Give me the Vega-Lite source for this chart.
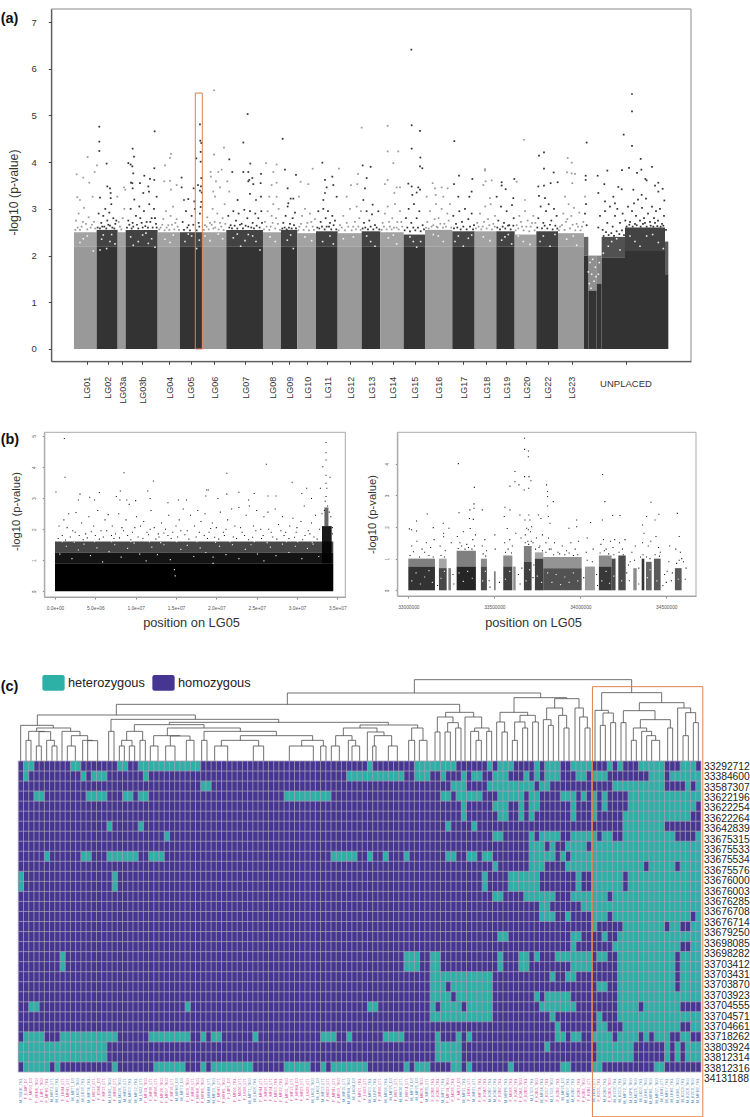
{"$schema":"https://vega.github.io/schema/vega-lite/v6.json","width":750,"height":1117,"autosize":"none","padding":0,"background":"white","config":{"font":"Liberation Sans","view":{"stroke":null},"axis":{"grid":false,"titleFontWeight":"normal","labelFlush":false,"labelOverlap":false}},
"datasets":{
"aSolid":[{"x":222,"x2":290,"y":0,"y2":2.2,"g":"g"},{"x":290,"x2":353,"y":0,"y2":2.2,"g":"d"},{"x":353,"x2":377,"y":0,"y2":2.2,"g":"g"},{"x":377,"x2":473,"y":0,"y2":2.2,"g":"d"},{"x":473,"x2":540,"y":0,"y2":2.2,"g":"g"},{"x":540,"x2":607,"y":0,"y2":2.2,"g":"d"},{"x":607,"x2":679,"y":0,"y2":2.2,"g":"g"},{"x":679,"x2":789,"y":0,"y2":2.2,"g":"d"},{"x":789,"x2":843,"y":0,"y2":2.2,"g":"g"},{"x":843,"x2":892,"y":0,"y2":2.2,"g":"d"},{"x":892,"x2":948,"y":0,"y2":2.2,"g":"g"},{"x":948,"x2":1013,"y":0,"y2":2.2,"g":"d"},{"x":1013,"x2":1085,"y":0,"y2":2.2,"g":"g"},{"x":1085,"x2":1141,"y":0,"y2":2.2,"g":"d"},{"x":1141,"x2":1211,"y":0,"y2":2.2,"g":"g"},{"x":1211,"x2":1275,"y":0,"y2":2.2,"g":"d"},{"x":1275,"x2":1357,"y":0,"y2":2.2,"g":"g"},{"x":1357,"x2":1424,"y":0,"y2":2.2,"g":"d"},{"x":1424,"x2":1489,"y":0,"y2":2.2,"g":"g"},{"x":1489,"x2":1544,"y":0,"y2":2.2,"g":"d"},{"x":1544,"x2":1609,"y":0,"y2":2.2,"g":"g"},{"x":1609,"x2":1674,"y":0,"y2":2.2,"g":"d"},{"x":1674,"x2":1752,"y":0,"y2":2.2,"g":"g"},{"x":1752,"x2":1765,"y":0,"y2":2.0,"g":"d"},{"x":1765,"x2":1790,"y":0,"y2":1.25,"g":"d"},{"x":1790,"x2":1805,"y":0,"y2":1.4,"g":"d"},{"x":1805,"x2":1875,"y":0,"y2":1.95,"g":"d"},{"x":1875,"x2":1995,"y":0,"y2":2.1,"g":"d"},{"x":1995,"x2":2005,"y":0,"y2":1.6,"g":"d"}],
"aBand":[{"x":222,"x2":290,"y":2.2,"y2":2.5,"g":"g","d":0.9},{"x":290,"x2":353,"y":2.2,"y2":2.55,"g":"d","d":0.92},{"x":353,"x2":377,"y":2.2,"y2":2.5,"g":"g","d":0.9},{"x":377,"x2":473,"y":2.2,"y2":2.55,"g":"d","d":0.92},{"x":473,"x2":540,"y":2.2,"y2":2.5,"g":"g","d":0.9},{"x":540,"x2":607,"y":2.2,"y2":2.5,"g":"d","d":0.9},{"x":607,"x2":679,"y":2.2,"y2":2.5,"g":"g","d":0.9},{"x":679,"x2":789,"y":2.2,"y2":2.55,"g":"d","d":0.92},{"x":789,"x2":843,"y":2.2,"y2":2.5,"g":"g","d":0.9},{"x":843,"x2":892,"y":2.2,"y2":2.55,"g":"d","d":0.92},{"x":892,"x2":948,"y":2.2,"y2":2.48,"g":"g","d":0.9},{"x":948,"x2":1013,"y":2.2,"y2":2.52,"g":"d","d":0.92},{"x":1013,"x2":1085,"y":2.2,"y2":2.48,"g":"g","d":0.9},{"x":1085,"x2":1141,"y":2.2,"y2":2.52,"g":"d","d":0.92},{"x":1141,"x2":1211,"y":2.2,"y2":2.5,"g":"g","d":0.9},{"x":1211,"x2":1275,"y":2.2,"y2":2.45,"g":"d","d":0.9},{"x":1275,"x2":1357,"y":2.2,"y2":2.55,"g":"g","d":0.95},{"x":1357,"x2":1424,"y":2.2,"y2":2.52,"g":"d","d":0.9},{"x":1424,"x2":1489,"y":2.2,"y2":2.52,"g":"g","d":0.9},{"x":1489,"x2":1544,"y":2.2,"y2":2.52,"g":"d","d":0.92},{"x":1544,"x2":1609,"y":2.2,"y2":2.45,"g":"g","d":0.9},{"x":1609,"x2":1674,"y":2.2,"y2":2.52,"g":"d","d":0.92},{"x":1674,"x2":1752,"y":2.2,"y2":2.48,"g":"g","d":0.9},{"x":1752,"x2":1765,"y":2.0,"y2":2.4,"g":"d","d":0.75},{"x":1765,"x2":1790,"y":1.25,"y2":2.0,"g":"d","d":0.55},{"x":1790,"x2":1805,"y":1.4,"y2":2.0,"g":"d","d":0.6},{"x":1805,"x2":1875,"y":1.95,"y2":2.4,"g":"d","d":0.85},{"x":1875,"x2":1995,"y":2.1,"y2":2.6,"g":"d","d":0.92},{"x":1995,"x2":2005,"y":1.6,"y2":2.3,"g":"d","d":0.8}],
"aWhite":[{"x":240,"y":2.28},{"x":262,"y":2.42},{"x":280,"y":2.1},{"x":305,"y":2.35},{"x":320,"y":2.15},{"x":335,"y":2.45},{"x":345,"y":2.25},{"x":392,"y":2.4},{"x":415,"y":2.3},{"x":438,"y":2.48},{"x":455,"y":2.36},{"x":465,"y":2.18},{"x":495,"y":2.35},{"x":520,"y":2.44},{"x":555,"y":2.3},{"x":575,"y":2.42},{"x":590,"y":2.15},{"x":630,"y":2.32},{"x":655,"y":2.46},{"x":700,"y":2.38},{"x":722,"y":2.2},{"x":745,"y":2.45},{"x":768,"y":2.3},{"x":780,"y":2.12},{"x":810,"y":2.4},{"x":862,"y":2.33},{"x":880,"y":2.15},{"x":915,"y":2.4},{"x":968,"y":2.3},{"x":990,"y":2.42},{"x":1030,"y":2.36},{"x":1100,"y":2.42},{"x":1125,"y":2.2},{"x":1165,"y":2.38},{"x":1190,"y":2.25},{"x":1230,"y":2.4},{"x":1250,"y":2.18},{"x":1262,"y":2.3},{"x":1300,"y":2.45},{"x":1330,"y":2.3},{"x":1375,"y":2.42},{"x":1390,"y":2.2},{"x":1405,"y":2.37},{"x":1450,"y":2.4},{"x":1505,"y":2.33},{"x":1525,"y":2.45},{"x":1570,"y":2.3},{"x":1590,"y":2.24},{"x":1630,"y":2.42},{"x":1650,"y":2.2},{"x":1700,"y":2.35},{"x":1730,"y":2.22},{"x":1825,"y":2.2},{"x":1835,"y":2.3},{"x":1860,"y":2.12},{"x":1905,"y":2.3},{"x":1940,"y":2.42},{"x":1975,"y":2.28},{"x":1775,"y":1.6},{"x":1782,"y":1.45},{"x":1770,"y":1.85},{"x":1786,"y":1.75},{"x":1795,"y":1.6},{"x":1810,"y":2.05},{"x":1798,"y":1.85},{"x":1768,"y":1.4},{"x":1778,"y":1.92},{"x":1773,"y":1.3},{"x":1788,"y":1.55},{"x":1765,"y":1.65},{"x":250,"y":2.36},{"x":300,"y":2.12},{"x":310,"y":2.44},{"x":330,"y":2.3},{"x":400,"y":2.22},{"x":428,"y":2.44},{"x":445,"y":2.26},{"x":510,"y":2.28},{"x":565,"y":2.46},{"x":598,"y":2.33},{"x":615,"y":2.42},{"x":668,"y":2.36},{"x":712,"y":2.46},{"x":735,"y":2.32},{"x":758,"y":2.42},{"x":826,"y":2.3},{"x":872,"y":2.44},{"x":935,"y":2.32},{"x":1000,"y":2.25},{"x":1060,"y":2.4},{"x":1112,"y":2.3},{"x":1180,"y":2.44},{"x":1240,"y":2.3},{"x":1315,"y":2.42},{"x":1365,"y":2.3},{"x":1415,"y":2.44},{"x":1470,"y":2.32},{"x":1515,"y":2.4},{"x":1535,"y":2.25},{"x":1555,"y":2.42},{"x":1620,"y":2.3},{"x":1665,"y":2.45},{"x":1720,"y":2.42},{"x":1850,"y":2.36},{"x":1890,"y":2.42},{"x":1920,"y":2.2},{"x":1958,"y":2.45},{"x":1990,"y":2.15}],
"aGrey":[{"x":230,"y":3.74},{"x":263,"y":4.11},{"x":250,"y":3.67},{"x":268,"y":3.56},{"x":284,"y":3.79},{"x":291,"y":3.93},{"x":232,"y":3.25},{"x":240,"y":3.19},{"x":278,"y":3.26},{"x":372,"y":3.46},{"x":376,"y":3.41},{"x":352,"y":3.26},{"x":495,"y":3.93},{"x":513,"y":4.18},{"x":510,"y":4.09},{"x":493,"y":3.59},{"x":510,"y":3.6},{"x":513,"y":3.41},{"x":530,"y":3.51},{"x":642,"y":5.54},{"x":642,"y":4.16},{"x":672,"y":4.31},{"x":632,"y":3.79},{"x":665,"y":3.84},{"x":655,"y":3.79},{"x":633,"y":3.69},{"x":648,"y":3.59},{"x":660,"y":3.46},{"x":682,"y":3.59},{"x":640,"y":3.37},{"x":645,"y":3.26},{"x":688,"y":3.37},{"x":798,"y":3.98},{"x":830,"y":3.95},{"x":820,"y":3.79},{"x":830,"y":3.56},{"x":815,"y":3.51},{"x":830,"y":3.26},{"x":808,"y":3.26},{"x":938,"y":3.86},{"x":902,"y":3.58},{"x":925,"y":3.53},{"x":897,"y":3.26},{"x":1017,"y":3.86},{"x":1074,"y":3.75},{"x":1053,"y":3.51},{"x":1072,"y":3.53},{"x":1085,"y":4.74},{"x":1040,"y":3.26},{"x":1163,"y":4.78},{"x":1163,"y":4.23},{"x":1195,"y":4.23},{"x":1180,"y":3.98},{"x":1163,"y":3.62},{"x":1155,"y":3.53},{"x":1190,"y":3.46},{"x":1200,"y":3.46},{"x":1183,"y":3.34},{"x":1572,"y":4.48},{"x":1703,"y":4.09},{"x":1715,"y":3.99},{"x":1701,"y":3.78},{"x":1715,"y":3.76},{"x":1725,"y":3.75},{"x":1717,"y":3.55},{"x":1455,"y":3.85},{"x":1455,"y":3.82},{"x":1457,"y":3.59},{"x":1475,"y":3.61},{"x":1450,"y":3.51},{"x":1550,"y":3.58},{"x":1298,"y":3.55},{"x":1305,"y":3.44},{"x":1325,"y":3.46},{"x":1343,"y":3.44},{"x":1307,"y":3.3},{"x":1330,"y":3.26},{"x":1280,"y":3.26},{"x":1575,"y":3.19},{"x":1755,"y":3.26},{"x":1695,"y":3.26},{"x":1470,"y":3.23},
{"x":228,"y":2.75},{"x":236,"y":2.9},{"x":245,"y":2.62},{"x":252,"y":3.02},{"x":258,"y":2.68},{"x":266,"y":2.82},{"x":272,"y":2.6},{"x":282,"y":2.72},{"x":233,"y":2.6},{"x":360,"y":2.62},{"x":368,"y":2.8},{"x":373,"y":3.0},{"x":482,"y":2.6},{"x":490,"y":2.78},{"x":498,"y":2.95},{"x":505,"y":2.65},{"x":512,"y":2.85},{"x":519,"y":3.05},{"x":526,"y":2.7},{"x":533,"y":2.62},{"x":500,"y":2.6},{"x":615,"y":2.65},{"x":622,"y":2.82},{"x":630,"y":2.7},{"x":638,"y":3.0},{"x":646,"y":2.6},{"x":652,"y":2.9},{"x":660,"y":2.7},{"x":668,"y":2.8},{"x":674,"y":3.1},{"x":640,"y":2.58},{"x":795,"y":2.72},{"x":803,"y":2.95},{"x":812,"y":2.62},{"x":820,"y":3.1},{"x":828,"y":2.8},{"x":836,"y":3.0},{"x":815,"y":2.85},{"x":898,"y":2.62},{"x":906,"y":2.85},{"x":915,"y":3.0},{"x":922,"y":2.7},{"x":930,"y":2.9},{"x":938,"y":2.62},{"x":945,"y":2.78},{"x":1020,"y":2.65},{"x":1030,"y":2.85},{"x":1040,"y":2.7},{"x":1050,"y":3.0},{"x":1060,"y":2.62},{"x":1070,"y":3.05},{"x":1078,"y":2.8},{"x":1083,"y":2.95},{"x":1065,"y":2.72},{"x":1148,"y":2.7},{"x":1155,"y":2.9},{"x":1163,"y":3.05},{"x":1170,"y":2.62},{"x":1177,"y":2.8},{"x":1185,"y":3.1},{"x":1192,"y":2.72},{"x":1200,"y":2.95},{"x":1207,"y":2.62},{"x":1182,"y":2.6},{"x":1282,"y":2.72},{"x":1290,"y":2.95},{"x":1300,"y":2.65},{"x":1308,"y":3.1},{"x":1316,"y":2.8},{"x":1325,"y":3.0},{"x":1333,"y":2.68},{"x":1342,"y":2.9},{"x":1350,"y":3.1},{"x":1310,"y":2.62},{"x":1432,"y":2.7},{"x":1440,"y":2.9},{"x":1448,"y":2.62},{"x":1456,"y":3.05},{"x":1464,"y":2.78},{"x":1472,"y":3.1},{"x":1480,"y":2.68},{"x":1485,"y":2.85},{"x":1550,"y":2.65},{"x":1558,"y":2.85},{"x":1566,"y":2.62},{"x":1575,"y":2.95},{"x":1583,"y":2.75},{"x":1592,"y":2.62},{"x":1600,"y":2.85},{"x":1606,"y":2.7},{"x":1680,"y":2.62},{"x":1690,"y":2.9},{"x":1698,"y":2.72},{"x":1706,"y":3.1},{"x":1714,"y":2.85},{"x":1722,"y":3.02},{"x":1730,"y":2.68},{"x":1738,"y":2.92},{"x":1746,"y":2.62},
{"x":226,"y":2.55},{"x":240,"y":2.55},{"x":249,"y":2.72},{"x":262,"y":2.56},{"x":276,"y":2.66},{"x":286,"y":2.58},{"x":356,"y":2.72},{"x":364,"y":2.56},{"x":478,"y":2.56},{"x":487,"y":2.66},{"x":494,"y":2.54},{"x":508,"y":2.55},{"x":516,"y":2.66},{"x":523,"y":2.56},{"x":530,"y":2.78},{"x":537,"y":2.55},{"x":612,"y":2.55},{"x":620,"y":2.62},{"x":626,"y":2.56},{"x":635,"y":2.66},{"x":644,"y":2.72},{"x":656,"y":2.56},{"x":664,"y":2.62},{"x":671,"y":2.55},{"x":676,"y":2.68},{"x":792,"y":2.56},{"x":800,"y":2.62},{"x":808,"y":2.55},{"x":818,"y":2.7},{"x":826,"y":2.58},{"x":834,"y":2.68},{"x":840,"y":2.55},{"x":895,"y":2.54},{"x":903,"y":2.68},{"x":911,"y":2.55},{"x":919,"y":2.62},{"x":927,"y":2.54},{"x":934,"y":2.72},{"x":942,"y":2.55},{"x":1016,"y":2.54},{"x":1025,"y":2.6},{"x":1035,"y":2.54},{"x":1045,"y":2.62},{"x":1055,"y":2.54},{"x":1068,"y":2.56},{"x":1075,"y":2.62},{"x":1082,"y":2.55},{"x":1145,"y":2.55},{"x":1152,"y":2.62},{"x":1160,"y":2.56},{"x":1167,"y":2.72},{"x":1175,"y":2.56},{"x":1190,"y":2.6},{"x":1196,"y":2.56},{"x":1204,"y":2.72},{"x":1278,"y":2.6},{"x":1286,"y":2.58},{"x":1295,"y":2.62},{"x":1304,"y":2.78},{"x":1313,"y":2.6},{"x":1321,"y":2.68},{"x":1329,"y":2.6},{"x":1338,"y":2.62},{"x":1346,"y":2.75},{"x":1354,"y":2.6},{"x":1428,"y":2.58},{"x":1436,"y":2.62},{"x":1444,"y":2.56},{"x":1452,"y":2.72},{"x":1460,"y":2.58},{"x":1468,"y":2.65},{"x":1476,"y":2.56},{"x":1484,"y":2.62},{"x":1547,"y":2.54},{"x":1555,"y":2.58},{"x":1563,"y":2.72},{"x":1571,"y":2.54},{"x":1579,"y":2.62},{"x":1588,"y":2.52},{"x":1596,"y":2.7},{"x":1604,"y":2.54},{"x":1677,"y":2.54},{"x":1686,"y":2.65},{"x":1694,"y":2.55},{"x":1702,"y":2.78},{"x":1710,"y":2.58},{"x":1718,"y":2.66},{"x":1726,"y":2.54},{"x":1734,"y":2.62},{"x":1742,"y":2.54},{"x":1750,"y":2.72}],
"aDark":[{"x":298,"y":4.76},{"x":298,"y":4.44},{"x":298,"y":4.24},{"x":320,"y":3.97},{"x":322,"y":3.48},{"x":330,"y":3.44},{"x":300,"y":3.24},{"x":332,"y":3.34},{"x":332,"y":3.23},{"x":398,"y":4.29},{"x":385,"y":3.98},{"x":392,"y":3.95},{"x":402,"y":4.12},{"x":397,"y":3.91},{"x":400,"y":3.76},{"x":397,"y":3.55},{"x":393,"y":3.56},{"x":398,"y":3.44},{"x":433,"y":3.71},{"x":464,"y":4.66},{"x":463,"y":3.87},{"x":450,"y":3.64},{"x":463,"y":3.62},{"x":420,"y":3.55},{"x":445,"y":3.48},{"x":447,"y":3.37},{"x":470,"y":3.26},{"x":430,"y":3.34},{"x":545,"y":3.67},{"x":545,"y":3.46},{"x":581,"y":3.44},{"x":600,"y":4.81},{"x":601,"y":4.46},{"x":604,"y":4.41},{"x":602,"y":4.22},{"x":589,"y":4.08},{"x":602,"y":4.01},{"x":604,"y":3.66},{"x":594,"y":3.51},{"x":603,"y":3.48},{"x":600,"y":3.39},{"x":605,"y":3.35},{"x":583,"y":3.16},{"x":565,"y":3.21},{"x":552,"y":3.19},{"x":602,"y":3.04},{"x":743,"y":5.03},{"x":730,"y":4.42},{"x":688,"y":4.06},{"x":697,"y":3.79},{"x":730,"y":3.79},{"x":745,"y":3.79},{"x":751,"y":3.97},{"x":745,"y":3.59},{"x":748,"y":3.62},{"x":757,"y":3.66},{"x":760,"y":3.53},{"x":783,"y":3.75},{"x":782,"y":3.55},{"x":750,"y":3.32},{"x":783,"y":3.26},{"x":713,"y":3.19},{"x":768,"y":3.19},{"x":848,"y":4.5},{"x":855,"y":3.84},{"x":863,"y":3.44},{"x":888,"y":3.73},{"x":872,"y":3.22},{"x":880,"y":3.22},{"x":865,"y":3.12},{"x":967,"y":3.99},{"x":975,"y":3.62},{"x":997,"y":3.69},{"x":1000,"y":3.51},{"x":980,"y":3.46},{"x":975,"y":3.34},{"x":970,"y":3.19},{"x":1010,"y":3.26},{"x":1088,"y":3.93},{"x":1112,"y":3.9},{"x":1100,"y":3.66},{"x":1095,"y":3.44},{"x":1118,"y":3.09},{"x":1090,"y":3.19},{"x":1234,"y":6.41},{"x":1235,"y":4.79},{"x":1260,"y":4.67},{"x":1235,"y":4.29},{"x":1261,"y":4.1},{"x":1260,"y":3.91},{"x":1267,"y":3.87},{"x":1225,"y":3.54},{"x":1235,"y":3.48},{"x":1255,"y":3.46},{"x":1260,"y":3.41},{"x":1237,"y":3.3},{"x":1250,"y":3.35},{"x":1363,"y":4.45},{"x":1377,"y":3.71},{"x":1362,"y":3.53},{"x":1417,"y":3.64},{"x":1415,"y":3.37},{"x":1375,"y":3.26},{"x":1408,"y":3.26},{"x":1505,"y":3.57},{"x":1505,"y":3.5},{"x":1543,"y":3.64},{"x":1517,"y":3.42},{"x":1540,"y":3.23},{"x":1490,"y":3.26},{"x":1617,"y":4.14},{"x":1632,"y":4.21},{"x":1632,"y":3.86},{"x":1661,"y":3.78},{"x":1673,"y":3.57},{"x":1652,"y":3.55},{"x":1632,"y":3.5},{"x":1615,"y":3.48},{"x":1617,"y":3.28},{"x":1635,"y":3.23},{"x":1760,"y":4.42},{"x":1757,"y":3.71},{"x":1757,"y":3.62},{"x":1793,"y":3.71},{"x":1822,"y":3.82},{"x":1866,"y":3.83},{"x":1887,"y":3.88},{"x":1871,"y":4.59},{"x":1896,"y":5.46},{"x":1896,"y":5.09},{"x":1896,"y":4.35},{"x":1922,"y":4.07},{"x":1956,"y":3.9},{"x":1924,"y":3.84},{"x":1911,"y":3.77},{"x":1936,"y":3.64},{"x":1940,"y":3.61},{"x":1975,"y":3.56},{"x":1965,"y":3.5},{"x":1813,"y":3.53},{"x":1855,"y":3.47},{"x":1865,"y":3.42},{"x":1988,"y":3.43},{"x":1975,"y":3.37},{"x":1993,"y":3.18},{"x":1900,"y":3.41},{"x":1925,"y":3.3},{"x":1795,"y":3.34},{"x":1815,"y":3.16},{"x":1840,"y":3.26},{"x":1845,"y":3.12},
{"x":296,"y":2.9},{"x":304,"y":2.7},{"x":310,"y":2.85},{"x":316,"y":3.0},{"x":322,"y":2.75},{"x":328,"y":2.92},{"x":334,"y":3.1},{"x":340,"y":2.8},{"x":346,"y":2.68},{"x":313,"y":2.62},{"x":330,"y":2.64},{"x":385,"y":2.75},{"x":392,"y":3.0},{"x":398,"y":2.7},{"x":403,"y":3.2},{"x":408,"y":2.85},{"x":418,"y":3.05},{"x":425,"y":2.7},{"x":432,"y":2.95},{"x":440,"y":2.72},{"x":448,"y":3.1},{"x":455,"y":2.8},{"x":462,"y":3.0},{"x":468,"y":2.68},{"x":400,"y":2.62},{"x":436,"y":2.63},{"x":548,"y":2.72},{"x":558,"y":2.95},{"x":566,"y":2.65},{"x":575,"y":2.85},{"x":585,"y":3.0},{"x":596,"y":2.7},{"x":600,"y":2.9},{"x":604,"y":3.15},{"x":685,"y":2.85},{"x":692,"y":2.65},{"x":700,"y":2.95},{"x":708,"y":2.75},{"x":716,"y":2.9},{"x":725,"y":2.68},{"x":733,"y":2.98},{"x":742,"y":2.8},{"x":750,"y":2.95},{"x":758,"y":2.7},{"x":766,"y":2.9},{"x":775,"y":2.8},{"x":784,"y":2.95},{"x":745,"y":2.62},{"x":850,"y":2.7},{"x":857,"y":2.85},{"x":863,"y":3.05},{"x":870,"y":2.68},{"x":878,"y":2.8},{"x":885,"y":2.92},{"x":955,"y":2.95},{"x":962,"y":2.72},{"x":970,"y":3.0},{"x":977,"y":2.8},{"x":984,"y":2.95},{"x":990,"y":2.7},{"x":997,"y":2.85},{"x":1005,"y":2.75},{"x":980,"y":2.62},{"x":1092,"y":2.7},{"x":1100,"y":2.95},{"x":1108,"y":2.75},{"x":1116,"y":2.88},{"x":1125,"y":2.65},{"x":1135,"y":2.95},{"x":1218,"y":2.8},{"x":1226,"y":3.0},{"x":1234,"y":2.7},{"x":1242,"y":3.1},{"x":1250,"y":2.8},{"x":1258,"y":2.95},{"x":1268,"y":2.65},{"x":1240,"y":2.6},{"x":1360,"y":2.85},{"x":1368,"y":2.68},{"x":1378,"y":2.95},{"x":1386,"y":2.72},{"x":1395,"y":3.0},{"x":1405,"y":2.78},{"x":1415,"y":2.9},{"x":1422,"y":2.65},{"x":1495,"y":2.75},{"x":1503,"y":3.05},{"x":1512,"y":2.7},{"x":1520,"y":2.95},{"x":1528,"y":2.65},{"x":1536,"y":3.08},{"x":1541,"y":2.8},{"x":1615,"y":2.8},{"x":1622,"y":3.05},{"x":1630,"y":2.7},{"x":1638,"y":2.95},{"x":1646,"y":3.1},{"x":1654,"y":2.75},{"x":1662,"y":3.0},{"x":1670,"y":2.85},{"x":1755,"y":2.9},{"x":1758,"y":3.1},{"x":1760,"y":2.65},{"x":1795,"y":2.6},{"x":1800,"y":2.85},{"x":1808,"y":2.55},{"x":1815,"y":2.95},{"x":1822,"y":2.7},{"x":1830,"y":3.05},{"x":1838,"y":2.62},{"x":1845,"y":2.85},{"x":1852,"y":3.0},{"x":1860,"y":2.7},{"x":1868,"y":2.9},{"x":1876,"y":2.75},{"x":1884,"y":3.05},{"x":1890,"y":2.72},{"x":1896,"y":2.95},{"x":1902,"y":3.12},{"x":1908,"y":2.85},{"x":1914,"y":3.2},{"x":1920,"y":2.75},{"x":1926,"y":3.02},{"x":1932,"y":2.8},{"x":1938,"y":3.22},{"x":1944,"y":2.9},{"x":1950,"y":2.72},{"x":1956,"y":3.05},{"x":1962,"y":2.8},{"x":1968,"y":2.95},{"x":1974,"y":2.75},{"x":1980,"y":3.0},{"x":1986,"y":2.68},{"x":1992,"y":2.85},{"x":1998,"y":2.55},{"x":1905,"y":2.68},{"x":1935,"y":2.7},{"x":1965,"y":2.7},
{"x":293,"y":2.6},{"x":300,"y":2.58},{"x":307,"y":2.62},{"x":319,"y":2.58},{"x":325,"y":2.66},{"x":337,"y":2.6},{"x":343,"y":2.58},{"x":349,"y":2.75},{"x":381,"y":2.6},{"x":388,"y":2.66},{"x":395,"y":2.58},{"x":411,"y":2.66},{"x":415,"y":2.58},{"x":421,"y":2.8},{"x":428,"y":2.6},{"x":444,"y":2.6},{"x":451,"y":2.72},{"x":458,"y":2.6},{"x":465,"y":2.8},{"x":470,"y":2.6},{"x":552,"y":2.55},{"x":562,"y":2.6},{"x":570,"y":2.54},{"x":580,"y":2.66},{"x":590,"y":2.54},{"x":598,"y":2.62},{"x":688,"y":2.6},{"x":696,"y":2.58},{"x":704,"y":2.64},{"x":712,"y":2.58},{"x":720,"y":2.66},{"x":729,"y":2.58},{"x":737,"y":2.64},{"x":754,"y":2.6},{"x":762,"y":2.58},{"x":770,"y":2.64},{"x":779,"y":2.6},{"x":786,"y":2.7},{"x":847,"y":2.58},{"x":854,"y":2.6},{"x":860,"y":2.56},{"x":867,"y":2.6},{"x":875,"y":2.58},{"x":882,"y":2.65},{"x":888,"y":2.58},{"x":952,"y":2.6},{"x":958,"y":2.58},{"x":966,"y":2.62},{"x":974,"y":2.56},{"x":987,"y":2.62},{"x":994,"y":2.56},{"x":1001,"y":2.65},{"x":1009,"y":2.56},{"x":1088,"y":2.58},{"x":1096,"y":2.6},{"x":1104,"y":2.56},{"x":1112,"y":2.62},{"x":1120,"y":2.56},{"x":1130,"y":2.6},{"x":1138,"y":2.56},{"x":1214,"y":2.54},{"x":1222,"y":2.6},{"x":1230,"y":2.52},{"x":1246,"y":2.54},{"x":1254,"y":2.6},{"x":1262,"y":2.52},{"x":1272,"y":2.56},{"x":1362,"y":2.58},{"x":1372,"y":2.6},{"x":1382,"y":2.56},{"x":1390,"y":2.62},{"x":1400,"y":2.56},{"x":1410,"y":2.62},{"x":1419,"y":2.56},{"x":1492,"y":2.6},{"x":1500,"y":2.56},{"x":1508,"y":2.62},{"x":1516,"y":2.58},{"x":1524,"y":2.64},{"x":1532,"y":2.56},{"x":1540,"y":2.64},{"x":1612,"y":2.6},{"x":1626,"y":2.58},{"x":1634,"y":2.64},{"x":1642,"y":2.58},{"x":1650,"y":2.66},{"x":1658,"y":2.56},{"x":1666,"y":2.64},{"x":1672,"y":2.58},{"x":1811,"y":2.42},{"x":1818,"y":2.5},{"x":1826,"y":2.44},{"x":1834,"y":2.48},{"x":1842,"y":2.42},{"x":1850,"y":2.52},{"x":1858,"y":2.46},{"x":1866,"y":2.54},{"x":1872,"y":2.44},{"x":1880,"y":2.62},{"x":1888,"y":2.66},{"x":1898,"y":2.62},{"x":1910,"y":2.65},{"x":1922,"y":2.62},{"x":1929,"y":2.68},{"x":1940,"y":2.62},{"x":1952,"y":2.64},{"x":1960,"y":2.62},{"x":1972,"y":2.63},{"x":1982,"y":2.62},{"x":1990,"y":2.64}],
"bL":[{"x":1.16,"y":4.92},{"x":1.24,"y":3.67},{"x":0.12,"y":3.2},{"x":3.1,"y":3.13},{"x":4.3,"y":3.03},{"x":4.9,"y":2.94},{"x":5.5,"y":3.18},{"x":2.9,"y":2.94},{"x":8.55,"y":3.82},{"x":8.1,"y":3.23},{"x":7.6,"y":3.05},{"x":8.05,"y":2.94},{"x":8.9,"y":2.94},{"x":10,"y":2.92},{"x":12.2,"y":3.55},{"x":11.5,"y":3.23},{"x":11.8,"y":2.99},{"x":14,"y":2.85},{"x":15.3,"y":2.94},{"x":16.3,"y":2.94},{"x":18.8,"y":3.26},{"x":19,"y":3.26},{"x":18.7,"y":3.07},{"x":20.2,"y":2.99},{"x":21.3,"y":3.8},{"x":21.3,"y":3.13},{"x":22.8,"y":3.19},{"x":24,"y":2.94},{"x":24.7,"y":3.15},{"x":26.2,"y":4.09},{"x":26.4,"y":3.07},{"x":27.4,"y":3.07},{"x":29.4,"y":3.51},{"x":30.6,"y":3.15},{"x":31.2,"y":3.32},{"x":31.8,"y":2.99},{"x":33.2,"y":4.01},{"x":32.9,"y":3.32},{"x":33.6,"y":4.79},{"x":33.6,"y":4.46},{"x":33.6,"y":4.23},{"x":33.6,"y":3.74},{"x":33.6,"y":3.48},{"x":33.7,"y":3.32},{"x":33.6,"y":3.05},{"x":34.1,"y":3.67},{"x":33.5,"y":2.9},{"x":33.8,"y":2.75},{"x":33.4,"y":2.6},{"x":34,"y":2.55},
{"x":0.5,"y":2.1},{"x":1.1,"y":2.3},{"x":1.5,"y":2.05},{"x":1.7,"y":2.5},{"x":2.2,"y":1.95},{"x":2.6,"y":2.54},{"x":3.3,"y":2.2},{"x":3.8,"y":1.85},{"x":4.2,"y":2.4},{"x":4.8,"y":2.1},{"x":5.3,"y":2.6},{"x":5.7,"y":1.95},{"x":6.2,"y":2.3},{"x":6.6,"y":2.47},{"x":7.1,"y":2.1},{"x":7.5,"y":1.85},{"x":7.9,"y":2.5},{"x":8.3,"y":2.05},{"x":8.8,"y":2.3},{"x":9.2,"y":2.8},{"x":9.6,"y":1.9},{"x":10.1,"y":2.4},{"x":10.6,"y":2.1},{"x":11,"y":2.25},{"x":11.4,"y":1.9},{"x":11.9,"y":2.6},{"x":12.3,"y":2.05},{"x":12.8,"y":1.85},{"x":13.2,"y":2.2},{"x":13.7,"y":2},{"x":14.1,"y":2.45},{"x":14.6,"y":1.9},{"x":15,"y":2.1},{"x":15.4,"y":2.3},{"x":15.9,"y":2.65},{"x":16.4,"y":1.95},{"x":16.8,"y":2.45},{"x":17.3,"y":2.1},{"x":17.7,"y":2.6},{"x":18.1,"y":2.25},{"x":18.6,"y":2.5},{"x":19.1,"y":1.9},{"x":19.5,"y":2.2},{"x":20,"y":2.05},{"x":20.5,"y":2.55},{"x":20.9,"y":1.9},{"x":21.4,"y":2.3},{"x":21.9,"y":2.65},{"x":22.3,"y":2.1},{"x":22.8,"y":2.7},{"x":23.2,"y":1.9},{"x":23.7,"y":2.45},{"x":24.1,"y":2.75},{"x":24.6,"y":2.1},{"x":25,"y":2.6},{"x":25.5,"y":2},{"x":25.9,"y":2.4},{"x":26.4,"y":2.55},{"x":26.8,"y":1.9},{"x":27.3,"y":2.65},{"x":27.7,"y":2.15},{"x":28.2,"y":2.4},{"x":28.6,"y":1.9},{"x":29.1,"y":2.1},{"x":29.5,"y":2.35},{"x":30,"y":2.05},{"x":30.5,"y":2.25},{"x":30.9,"y":2.75},{"x":31.4,"y":1.95},{"x":31.8,"y":2.2},{"x":32.3,"y":2.45},{"x":32.8,"y":2},{"x":33.1,"y":2.5},{"x":34.2,"y":2.4},{"x":34.4,"y":2.05},{"x":0.9,"y":1.8},{"x":1.9,"y":1.75},{"x":3,"y":1.8},{"x":4,"y":1.72},{"x":5,"y":1.8},{"x":6,"y":1.75},{"x":7,"y":1.8},{"x":8,"y":1.72},{"x":9,"y":1.8},{"x":10.3,"y":1.75},{"x":11.6,"y":1.82},{"x":12.9,"y":1.75},{"x":14,"y":1.8},{"x":15.2,"y":1.75},{"x":16.1,"y":1.82},{"x":17.5,"y":1.75},{"x":18.5,"y":1.8},{"x":19.8,"y":1.74},{"x":21,"y":1.8},{"x":22.1,"y":1.75},{"x":23.5,"y":1.8},{"x":24.5,"y":1.74},{"x":25.8,"y":1.8},{"x":27,"y":1.75},{"x":28.4,"y":1.8},{"x":29.7,"y":1.74},{"x":31,"y":1.8},{"x":32.1,"y":1.75},
{"x":0.4,"y":1.7},{"x":1.3,"y":1.65},{"x":2.5,"y":1.9},{"x":3.5,"y":1.66},{"x":4.5,"y":1.92},{"x":5.5,"y":1.68},{"x":6.4,"y":1.95},{"x":7.3,"y":1.7},{"x":8.5,"y":1.95},{"x":9.4,"y":1.66},{"x":9.9,"y":2.05},{"x":10.9,"y":1.7},{"x":11.8,"y":2},{"x":12.5,"y":1.68},{"x":13.5,"y":1.88},{"x":14.4,"y":1.7},{"x":15.6,"y":1.95},{"x":16.6,"y":1.68},{"x":17.9,"y":1.9},{"x":18.9,"y":1.7},{"x":19.3,"y":2.02},{"x":20.3,"y":1.68},{"x":21.2,"y":2},{"x":22.5,"y":1.7},{"x":23,"y":2.05},{"x":24,"y":1.66},{"x":24.9,"y":1.95},{"x":25.6,"y":1.7},{"x":26.5,"y":2},{"x":27.5,"y":1.68},{"x":28,"y":1.95},{"x":29,"y":1.7},{"x":29.9,"y":1.9},{"x":30.7,"y":1.66},{"x":31.6,"y":1.85},{"x":32.5,"y":1.68},{"x":34.4,"y":1.85}],
"bLWhite":[{"x":0.6,"y":1.2},{"x":1.4,"y":1.45},{"x":2.1,"y":1.05},{"x":2.9,"y":1.33},{"x":3.6,"y":1.52},{"x":4.4,"y":1.15},{"x":5.2,"y":1.4},{"x":5.9,"y":0.95},{"x":6.7,"y":1.28},{"x":7.4,"y":1.5},{"x":8.2,"y":1.1},{"x":9,"y":1.38},{"x":9.8,"y":1.55},{"x":10.5,"y":1.2},{"x":11.3,"y":0.98},{"x":12,"y":1.42},{"x":12.7,"y":1.18},{"x":13.5,"y":1.5},{"x":14.3,"y":1.02},{"x":14.8,"y":0.7},{"x":14.9,"y":0.5},{"x":15.6,"y":1.35},{"x":16.4,"y":1.48},{"x":17.2,"y":1.12},{"x":18,"y":1.4},{"x":18.7,"y":1.25},{"x":19.6,"y":0.9},{"x":19.6,"y":1.1},{"x":20.4,"y":1.45},{"x":21.2,"y":1.18},{"x":22,"y":1.5},{"x":22.8,"y":1.05},{"x":23.6,"y":1.35},{"x":24.3,"y":1.5},{"x":25.1,"y":1.2},{"x":25.9,"y":0.98},{"x":26.7,"y":1.42},{"x":27.4,"y":1.15},{"x":28.2,"y":1.52},{"x":29,"y":1.25},{"x":29.8,"y":1.45},{"x":30.6,"y":1.05},{"x":31.3,"y":1.38},{"x":32,"y":1.52},{"x":32.7,"y":1.12},{"x":0.9,"y":1.6},{"x":2.4,"y":1.58},{"x":4.9,"y":1.6},{"x":7,"y":1.6},{"x":9.4,"y":1.6},{"x":11.7,"y":1.6},{"x":13.1,"y":1.57},{"x":15.1,"y":1.6},{"x":17.6,"y":1.6},{"x":19.9,"y":1.58},{"x":21.7,"y":1.6},{"x":24.7,"y":1.6},{"x":26.3,"y":1.57},{"x":28.7,"y":1.6},{"x":30.1,"y":1.6},{"x":31.9,"y":1.58}],
"bLBands":[{"x":0,"x2":34.5,"y":0,"y2":0.9,"d":1},{"x":0,"x2":34.5,"y":0.9,"y2":1.25,"d":0.92},{"x":0,"x2":34.5,"y":1.25,"y2":1.6,"d":0.72},{"x":33.1,"x2":34.3,"y":0.9,"y2":2.1,"d":0.9},{"x":33.4,"x2":33.9,"y":2.1,"y2":2.7,"d":0.6}],
"bR":[{"x":33676,"y":4.8},{"x":33676,"y":4.45},{"x":33698,"y":4.4},{"x":33698,"y":4.22},{"x":33620,"y":3.75},{"x":33676,"y":3.59},{"x":33702,"y":3.59},{"x":33713,"y":3.46},{"x":33620,"y":3.43},{"x":33591,"y":3.29},{"x":33643,"y":3.33},{"x":33674,"y":3.17},{"x":33700,"y":3.22},{"x":33804,"y":3.33},{"x":33810,"y":3.12},{"x":33810,"y":2.96},{"x":33843,"y":2.8},{"x":33810,"y":2.66},{"x":33291,"y":4},{"x":33384,"y":3.25},{"x":33382,"y":2.73},{"x":33382,"y":2.59},{"x":33295,"y":2.45},{"x":33358,"y":2.54},{"x":33355,"y":2.27},{"x":33378,"y":2.24},{"x":33430,"y":2.54},{"x":33110,"y":2.41},{"x":33048,"y":2.19},{"x":33006,"y":1.94},{"x":33019,"y":1.91},{"x":33048,"y":1.87},{"x":33145,"y":1.98},{"x":33203,"y":2.12},{"x":33205,"y":1.69},{"x":33236,"y":1.96},{"x":34130,"y":3.66},{"x":34143,"y":2.8},{"x":34411,"y":2.78},{"x":34386,"y":2.33},{"x":34457,"y":2.4},{"x":34564,"y":2.43},{"x":34362,"y":2.06},{"x":34434,"y":2.22},{"x":34060,"y":2.14},{"x":34188,"y":2.36},{"x":34231,"y":2.36},{"x":34128,"y":2.22},{"x":33979,"y":2.22},{"x":33979,"y":2.01},{"x":33934,"y":1.96},{"x":33562,"y":2.62},{"x":33591,"y":2.54},{"x":33558,"y":2.33},{"x":33649,"y":2.38},{"x":33678,"y":2.22},{"x":33701,"y":2.38},{"x":33707,"y":2.22},{"x":33756,"y":2.38},{"x":33771,"y":2.27},{"x":33814,"y":2.33},{"x":33824,"y":2.12},{"x":33717,"y":2.01},{"x":33688,"y":1.96},{"x":33698,"y":1.91},
{"x":33020,"y":1.4},{"x":33050,"y":1.55},{"x":33080,"y":1.3},{"x":33105,"y":1.5},{"x":33130,"y":1.35},{"x":33150,"y":1.6},{"x":33185,"y":1.4},{"x":33205,"y":1.8},{"x":33215,"y":1.25},{"x":33250,"y":1.5},{"x":33285,"y":1.7},{"x":33300,"y":1.5},{"x":33320,"y":1.85},{"x":33340,"y":1.45},{"x":33360,"y":1.95},{"x":33375,"y":1.6},{"x":33390,"y":1.75},{"x":33430,"y":1.4},{"x":33445,"y":1.6},{"x":33455,"y":1.25},{"x":33505,"y":1.3},{"x":33503,"y":1.75},{"x":33560,"y":1.5},{"x":33575,"y":1.95},{"x":33590,"y":1.6},{"x":33605,"y":1.4},{"x":33625,"y":1.8},{"x":33655,"y":1.65},{"x":33680,"y":1.75},{"x":33695,"y":1.55},{"x":33710,"y":1.85},{"x":33725,"y":1.5},{"x":33745,"y":1.65},{"x":33765,"y":1.4},{"x":33780,"y":1.75},{"x":33800,"y":1.5},{"x":33815,"y":1.65},{"x":33830,"y":1.3},{"x":33850,"y":1.5},{"x":33870,"y":1.2},{"x":33895,"y":1.4},{"x":33920,"y":1.25},{"x":33945,"y":1.5},{"x":33970,"y":1.3},{"x":33990,"y":1.55},{"x":34035,"y":1.2},{"x":34040,"y":1.65},{"x":34075,"y":1.3},{"x":34120,"y":1.45},{"x":34135,"y":1.6},{"x":34150,"y":1.3},{"x":34175,"y":1.55},{"x":34190,"y":1.35},{"x":34200,"y":1.6},{"x":34228,"y":1.5},{"x":34245,"y":1.3},{"x":34260,"y":1.6},{"x":34300,"y":1.2},{"x":34320,"y":1.4},{"x":34362,"y":1.5},{"x":34370,"y":1.8},{"x":34395,"y":1.4},{"x":34410,"y":1.55},{"x":34440,"y":1.7},{"x":34455,"y":1.35},{"x":34465,"y":1.2},{"x":34520,"y":1.4},{"x":34555,"y":1.3},{"x":34575,"y":1.7},{"x":34582,"y":1.2},{"x":34590,"y":1},{"x":34600,"y":0.9},{"x":34515,"y":0.9},{"x":34535,"y":0.55},{"x":34290,"y":0.9},{"x":34340,"y":0.7},{"x":34490,"y":0.5},
{"x":33010,"y":1.1},{"x":33030,"y":1.22},{"x":33065,"y":1.05},{"x":33095,"y":1.2},{"x":33120,"y":1.1},{"x":33145,"y":1.05},{"x":33190,"y":1.1},{"x":33210,"y":1.05},{"x":33290,"y":1.32},{"x":33310,"y":1.4},{"x":33330,"y":1.3},{"x":33350,"y":1.35},{"x":33370,"y":1.3},{"x":33385,"y":1.4},{"x":33435,"y":1.15},{"x":33450,"y":1.08},{"x":33565,"y":1.2},{"x":33580,"y":1.3},{"x":33600,"y":1.18},{"x":33680,"y":1.5},{"x":33700,"y":1.45},{"x":33715,"y":1.55},{"x":33740,"y":1.3},{"x":33760,"y":1.35},{"x":33780,"y":1.25},{"x":33800,"y":1.2},{"x":33820,"y":1.3},{"x":33845,"y":1.12},{"x":33880,"y":1.15},{"x":33910,"y":1.12},{"x":33935,"y":1.18},{"x":33960,"y":1.1},{"x":33985,"y":1.12},{"x":34040,"y":0.95},{"x":34070,"y":0.9},{"x":34115,"y":1.18},{"x":34140,"y":1.25},{"x":34165,"y":1.15},{"x":34195,"y":1.12},{"x":34225,"y":1.2},{"x":34250,"y":1.12},{"x":34280,"y":0.8},{"x":34315,"y":0.95},{"x":34350,"y":1.05},{"x":34365,"y":1.12},{"x":34385,"y":1.05},{"x":34405,"y":1.0},{"x":34435,"y":1.12},{"x":34460,"y":1.08},{"x":34560,"y":0.85},{"x":34575,"y":0.95},{"x":34505,"y":0.6},{"x":34500,"y":0.25},{"x":34530,"y":0.3},{"x":34610,"y":0.35},{"x":34615,"y":0.7},{"x":34270,"y":0.55},{"x":34285,"y":0.3},{"x":34340,"y":0.2},{"x":34480,"y":0.15},{"x":34095,"y":0.5},{"x":34100,"y":0.15},{"x":34020,"y":0.4},{"x":33260,"y":0.5},{"x":33265,"y":0.2},{"x":33170,"y":0.15},{"x":33470,"y":0.3},{"x":33475,"y":0.1},{"x":33530,"y":0.25},{"x":33640,"y":0.5},{"x":33650,"y":0.2},{"x":33660,"y":0.7},{"x":33725,"y":0.4},{"x":33730,"y":0.8}],
"bRWhite":[{"x":33020,"y":0.3},{"x":33045,"y":0.55},{"x":33070,"y":0.2},{"x":33095,"y":0.42},{"x":33120,"y":0.62},{"x":33140,"y":0.25},{"x":33190,"y":0.38},{"x":33210,"y":0.6},{"x":33295,"y":0.55},{"x":33320,"y":0.28},{"x":33345,"y":0.6},{"x":33372,"y":0.38},{"x":33432,"y":0.3},{"x":33448,"y":0.6},{"x":33565,"y":0.35},{"x":33590,"y":0.6},{"x":33685,"y":0.3},{"x":33705,"y":0.65},{"x":33750,"y":0.45},{"x":33775,"y":0.25},{"x":33810,"y":0.55},{"x":33835,"y":0.25},{"x":33860,"y":0.5},{"x":33885,"y":0.18},{"x":33910,"y":0.42},{"x":33935,"y":0.25},{"x":33960,"y":0.55},{"x":33985,"y":0.3},{"x":34125,"y":0.3},{"x":34150,"y":0.6},{"x":34170,"y":0.22},{"x":34195,"y":0.45},{"x":34240,"y":0.3},{"x":34390,"y":0.4},{"x":34405,"y":0.65},{"x":34445,"y":0.3},{"x":34570,"y":0.35}],
"bRBands":[{"x":33000,"x2":33155,"y":0,"y2":0.75,"d":0.8},{"x":33000,"x2":33155,"y":0.75,"y2":1.0,"d":0.5},{"x":33178,"x2":33223,"y":0,"y2":0.7,"d":0.72},{"x":33178,"x2":33223,"y":0.7,"y2":1.0,"d":0.35},{"x":33233,"x2":33248,"y":0,"y2":0.7,"d":0.5},{"x":33281,"x2":33393,"y":0,"y2":0.75,"d":0.85},{"x":33281,"x2":33393,"y":0.75,"y2":1.25,"d":0.5},{"x":33422,"x2":33457,"y":0,"y2":0.75,"d":0.7},{"x":33422,"x2":33457,"y":0.75,"y2":1.0,"d":0.45},{"x":33498,"x2":33508,"y":0,"y2":0.6,"d":0.5},{"x":33552,"x2":33605,"y":0,"y2":0.75,"d":0.75},{"x":33552,"x2":33605,"y":0.75,"y2":1.1,"d":0.45},{"x":33610,"x2":33624,"y":0,"y2":0.75,"d":0.45},{"x":33672,"x2":33717,"y":0,"y2":0.9,"d":0.75},{"x":33672,"x2":33717,"y":0.9,"y2":1.4,"d":0.5},{"x":33736,"x2":33785,"y":0,"y2":1.0,"d":0.75},{"x":33736,"x2":33785,"y":1.0,"y2":1.2,"d":0.35},{"x":33785,"x2":34008,"y":0,"y2":0.7,"d":0.68},{"x":33785,"x2":34008,"y":0.7,"y2":1.05,"d":0.42},{"x":34027,"x2":34085,"y":0,"y2":0.75,"d":0.4},{"x":34108,"x2":34182,"y":0,"y2":0.75,"d":0.78},{"x":34108,"x2":34182,"y":0.75,"y2":1.1,"d":0.45},{"x":34182,"x2":34205,"y":0,"y2":1.0,"d":0.7},{"x":34221,"x2":34264,"y":0,"y2":1.1,"d":0.7},{"x":34308,"x2":34328,"y":0,"y2":0.7,"d":0.45},{"x":34357,"x2":34372,"y":0,"y2":1.0,"d":0.8},{"x":34382,"x2":34415,"y":0,"y2":0.9,"d":0.6},{"x":34428,"x2":34467,"y":0,"y2":1.0,"d":0.65},{"x":34550,"x2":34589,"y":0,"y2":0.7,"d":0.65}],
"het":[{"x":1,"x2":3,"y":0,"y2":1},{"x":10,"x2":12,"y":0,"y2":1},{"x":19,"x2":21,"y":0,"y2":1},{"x":23,"x2":35,"y":0,"y2":1},{"x":67,"x2":68,"y":0,"y2":1},{"x":76,"x2":84,"y":0,"y2":1},{"x":90,"x2":91,"y":0,"y2":1},{"x":92,"x2":95,"y":0,"y2":1},{"x":99,"x2":100,"y":0,"y2":1},{"x":101,"x2":104,"y":0,"y2":1},{"x":106,"x2":110,"y":0,"y2":1},{"x":113,"x2":114,"y":0,"y2":1},{"x":115,"x2":116,"y":0,"y2":1},{"x":119,"x2":124,"y":0,"y2":1},{"x":127,"x2":130,"y":0,"y2":1},
{"x":1,"x2":2,"y":1,"y2":2},{"x":12,"x2":13,"y":1,"y2":2},{"x":14,"x2":17,"y":1,"y2":2},{"x":24,"x2":25,"y":1,"y2":2},{"x":63,"x2":74,"y":1,"y2":2},{"x":76,"x2":79,"y":1,"y2":2},{"x":81,"x2":82,"y":1,"y2":2},{"x":85,"x2":86,"y":1,"y2":2},{"x":87,"x2":89,"y":1,"y2":2},{"x":91,"x2":94,"y":1,"y2":2},{"x":97,"x2":98,"y":1,"y2":2},{"x":99,"x2":100,"y":1,"y2":2},{"x":101,"x2":104,"y":1,"y2":2},{"x":107,"x2":109,"y":1,"y2":2},{"x":110,"x2":113,"y":1,"y2":2},{"x":121,"x2":124,"y":1,"y2":2},{"x":125,"x2":131,"y":1,"y2":2},
{"x":35,"x2":37,"y":2,"y2":3},{"x":83,"x2":86,"y":2,"y2":3},{"x":90,"x2":99,"y":2,"y2":3},{"x":100,"x2":102,"y":2,"y2":3},{"x":114,"x2":124,"y":2,"y2":3},{"x":128,"x2":129,"y":2,"y2":3},{"x":130,"x2":131,"y":2,"y2":3},
{"x":3,"x2":5,"y":3,"y2":4},{"x":13,"x2":17,"y":3,"y2":4},{"x":20,"x2":22,"y":3,"y2":4},{"x":23,"x2":25,"y":3,"y2":4},{"x":51,"x2":60,"y":3,"y2":4},{"x":81,"x2":83,"y":3,"y2":4},{"x":84,"x2":89,"y":3,"y2":4},{"x":92,"x2":97,"y":3,"y2":4},{"x":98,"x2":100,"y":3,"y2":4},{"x":104,"x2":107,"y":3,"y2":4},{"x":108,"x2":109,"y":3,"y2":4},{"x":110,"x2":111,"y":3,"y2":4},{"x":112,"x2":113,"y":3,"y2":4},{"x":117,"x2":131,"y":3,"y2":4},
{"x":85,"x2":86,"y":4,"y2":5},{"x":91,"x2":94,"y":4,"y2":5},{"x":96,"x2":97,"y":4,"y2":5},{"x":98,"x2":100,"y":4,"y2":5},{"x":106,"x2":107,"y":4,"y2":5},{"x":110,"x2":111,"y":4,"y2":5},{"x":112,"x2":113,"y":4,"y2":5},{"x":117,"x2":130,"y":4,"y2":5},
{"x":85,"x2":86,"y":5,"y2":6},{"x":92,"x2":94,"y":5,"y2":6},{"x":96,"x2":97,"y":5,"y2":6},{"x":98,"x2":99,"y":5,"y2":6},{"x":106,"x2":107,"y":5,"y2":6},{"x":110,"x2":111,"y":5,"y2":6},{"x":116,"x2":129,"y":5,"y2":6},
{"x":17,"x2":18,"y":6,"y2":7},{"x":23,"x2":24,"y":6,"y2":7},{"x":82,"x2":83,"y":6,"y2":7},{"x":87,"x2":88,"y":6,"y2":7},{"x":116,"x2":124,"y":6,"y2":7},
{"x":28,"x2":29,"y":7,"y2":8},{"x":91,"x2":93,"y":7,"y2":8},{"x":98,"x2":99,"y":7,"y2":8},{"x":100,"x2":104,"y":7,"y2":8},{"x":106,"x2":111,"y":7,"y2":8},{"x":112,"x2":114,"y":7,"y2":8},{"x":116,"x2":126,"y":7,"y2":8},{"x":130,"x2":131,"y":7,"y2":8},
{"x":98,"x2":101,"y":8,"y2":9},{"x":102,"x2":103,"y":8,"y2":9},{"x":105,"x2":109,"y":8,"y2":9},{"x":110,"x2":131,"y":8,"y2":9},
{"x":5,"x2":6,"y":9,"y2":10},{"x":12,"x2":14,"y":9,"y2":10},{"x":17,"x2":23,"y":9,"y2":10},{"x":25,"x2":28,"y":9,"y2":10},{"x":60,"x2":65,"y":9,"y2":10},{"x":67,"x2":68,"y":9,"y2":10},{"x":70,"x2":71,"y":9,"y2":10},{"x":74,"x2":75,"y":9,"y2":10},{"x":82,"x2":84,"y":9,"y2":10},{"x":86,"x2":88,"y":9,"y2":10},{"x":89,"x2":91,"y":9,"y2":10},{"x":98,"x2":103,"y":9,"y2":10},{"x":104,"x2":105,"y":9,"y2":10},{"x":106,"x2":131,"y":9,"y2":10},
{"x":91,"x2":92,"y":10,"y2":11},{"x":98,"x2":101,"y":10,"y2":11},{"x":105,"x2":120,"y":10,"y2":11},{"x":121,"x2":126,"y":10,"y2":11},{"x":127,"x2":131,"y":10,"y2":11},
{"x":0,"x2":1,"y":11,"y2":13},{"x":18,"x2":19,"y":11,"y2":13},{"x":89,"x2":90,"y":11,"y2":13},{"x":94,"x2":100,"y":11,"y2":13},{"x":107,"x2":108,"y":11,"y2":13},{"x":110,"x2":116,"y":11,"y2":13},{"x":117,"x2":131,"y":11,"y2":13},
{"x":91,"x2":93,"y":13,"y2":14},{"x":97,"x2":103,"y":13,"y2":14},{"x":106,"x2":113,"y":13,"y2":14},{"x":114,"x2":131,"y":13,"y2":14},
{"x":100,"x2":102,"y":14,"y2":15},{"x":108,"x2":131,"y":14,"y2":15},
{"x":100,"x2":103,"y":15,"y2":16},{"x":105,"x2":106,"y":15,"y2":16},{"x":110,"x2":113,"y":15,"y2":16},{"x":114,"x2":129,"y":15,"y2":16},{"x":130,"x2":131,"y":15,"y2":16},
{"x":110,"x2":111,"y":16,"y2":17},{"x":116,"x2":124,"y":16,"y2":17},{"x":125,"x2":127,"y":16,"y2":17},{"x":129,"x2":131,"y":16,"y2":17},
{"x":92,"x2":94,"y":17,"y2":18},{"x":106,"x2":108,"y":17,"y2":18},{"x":112,"x2":113,"y":17,"y2":18},{"x":115,"x2":131,"y":17,"y2":18},
{"x":106,"x2":107,"y":18,"y2":19},{"x":114,"x2":127,"y":18,"y2":19},{"x":129,"x2":131,"y":18,"y2":19},
{"x":8,"x2":9,"y":19,"y2":21},{"x":74,"x2":77,"y":19,"y2":21},{"x":79,"x2":81,"y":19,"y2":21},{"x":92,"x2":93,"y":19,"y2":21},{"x":96,"x2":98,"y":19,"y2":21},{"x":99,"x2":100,"y":19,"y2":20},{"x":103,"x2":110,"y":19,"y2":20},{"x":111,"x2":113,"y":19,"y2":20},{"x":115,"x2":126,"y":19,"y2":21},{"x":127,"x2":131,"y":19,"y2":21},{"x":106,"x2":110,"y":20,"y2":21},
{"x":79,"x2":91,"y":21,"y2":22},{"x":102,"x2":103,"y":21,"y2":22},{"x":105,"x2":107,"y":21,"y2":22},{"x":115,"x2":126,"y":21,"y2":22},{"x":127,"x2":131,"y":21,"y2":22},
{"x":79,"x2":82,"y":22,"y2":23},{"x":83,"x2":91,"y":22,"y2":23},{"x":111,"x2":113,"y":22,"y2":23},{"x":115,"x2":126,"y":22,"y2":23},{"x":127,"x2":131,"y":22,"y2":23},
{"x":79,"x2":83,"y":23,"y2":24},{"x":84,"x2":91,"y":23,"y2":24},{"x":99,"x2":100,"y":23,"y2":24},{"x":101,"x2":106,"y":23,"y2":24},{"x":115,"x2":131,"y":23,"y2":24},
{"x":2,"x2":4,"y":24,"y2":25},{"x":32,"x2":33,"y":24,"y2":25},{"x":67,"x2":69,"y":24,"y2":25},{"x":79,"x2":80,"y":24,"y2":25},{"x":81,"x2":85,"y":24,"y2":25},{"x":86,"x2":91,"y":24,"y2":25},{"x":100,"x2":107,"y":24,"y2":25},{"x":115,"x2":119,"y":24,"y2":25},{"x":120,"x2":127,"y":24,"y2":25},
{"x":79,"x2":91,"y":25,"y2":26},{"x":102,"x2":103,"y":25,"y2":26},{"x":111,"x2":112,"y":25,"y2":26},{"x":115,"x2":131,"y":25,"y2":26},
{"x":103,"x2":104,"y":26,"y2":27},{"x":111,"x2":113,"y":26,"y2":27},{"x":116,"x2":127,"y":26,"y2":27},{"x":129,"x2":131,"y":26,"y2":27},
{"x":1,"x2":5,"y":27,"y2":28},{"x":8,"x2":19,"y":27,"y2":28},{"x":25,"x2":33,"y":27,"y2":28},{"x":35,"x2":36,"y":27,"y2":28},{"x":37,"x2":39,"y":27,"y2":28},{"x":45,"x2":46,"y":27,"y2":28},{"x":58,"x2":61,"y":27,"y2":28},{"x":63,"x2":64,"y":27,"y2":28},{"x":70,"x2":74,"y":27,"y2":28},{"x":80,"x2":81,"y":27,"y2":28},{"x":84,"x2":85,"y":27,"y2":28},{"x":86,"x2":87,"y":27,"y2":28},{"x":103,"x2":105,"y":27,"y2":28},{"x":106,"x2":108,"y":27,"y2":28},{"x":110,"x2":114,"y":27,"y2":28},{"x":115,"x2":119,"y":27,"y2":28},{"x":120,"x2":121,"y":27,"y2":28},{"x":122,"x2":125,"y":27,"y2":28},{"x":127,"x2":129,"y":27,"y2":28},
{"x":0,"x2":17,"y":28,"y2":30},{"x":80,"x2":85,"y":28,"y2":30},{"x":101,"x2":102,"y":28,"y2":29},{"x":111,"x2":118,"y":28,"y2":30},{"x":124,"x2":125,"y":28,"y2":30},{"x":126,"x2":127,"y":28,"y2":30},{"x":128,"x2":131,"y":28,"y2":30},
{"x":1,"x2":6,"y":30,"y2":31},{"x":7,"x2":8,"y":30,"y2":31},{"x":18,"x2":19,"y":30,"y2":31},{"x":26,"x2":32,"y":30,"y2":31},{"x":35,"x2":36,"y":30,"y2":31},{"x":37,"x2":45,"y":30,"y2":31},{"x":51,"x2":56,"y":30,"y2":31},{"x":58,"x2":59,"y":30,"y2":31},{"x":60,"x2":67,"y":30,"y2":31},{"x":74,"x2":75,"y":30,"y2":31},{"x":76,"x2":79,"y":30,"y2":31},{"x":83,"x2":85,"y":30,"y2":31},{"x":86,"x2":87,"y":30,"y2":31},{"x":94,"x2":95,"y":30,"y2":31},{"x":104,"x2":106,"y":30,"y2":31},{"x":110,"x2":112,"y":30,"y2":31},{"x":122,"x2":124,"y":30,"y2":31}],
"vLines":[{"x":0,"y":0,"y2":31},{"x":1,"y":0,"y2":31},{"x":2,"y":0,"y2":31},{"x":3,"y":0,"y2":31},{"x":4,"y":0,"y2":31},{"x":5,"y":0,"y2":31},{"x":6,"y":0,"y2":31},{"x":7,"y":0,"y2":31},{"x":8,"y":0,"y2":31},{"x":9,"y":0,"y2":31},{"x":10,"y":0,"y2":31},{"x":11,"y":0,"y2":31},{"x":12,"y":0,"y2":31},{"x":13,"y":0,"y2":31},{"x":14,"y":0,"y2":31},{"x":15,"y":0,"y2":31},{"x":16,"y":0,"y2":31},{"x":17,"y":0,"y2":31},{"x":18,"y":0,"y2":31},{"x":19,"y":0,"y2":31},{"x":20,"y":0,"y2":31},{"x":21,"y":0,"y2":31},{"x":22,"y":0,"y2":31},{"x":23,"y":0,"y2":31},{"x":24,"y":0,"y2":31},{"x":25,"y":0,"y2":31},{"x":26,"y":0,"y2":31},{"x":27,"y":0,"y2":31},{"x":28,"y":0,"y2":31},{"x":29,"y":0,"y2":31},{"x":30,"y":0,"y2":31},{"x":31,"y":0,"y2":31},{"x":32,"y":0,"y2":31},{"x":33,"y":0,"y2":31},{"x":34,"y":0,"y2":31},{"x":35,"y":0,"y2":31},{"x":36,"y":0,"y2":31},{"x":37,"y":0,"y2":31},{"x":38,"y":0,"y2":31},{"x":39,"y":0,"y2":31},{"x":40,"y":0,"y2":31},{"x":41,"y":0,"y2":31},{"x":42,"y":0,"y2":31},{"x":43,"y":0,"y2":31},{"x":44,"y":0,"y2":31},{"x":45,"y":0,"y2":31},{"x":46,"y":0,"y2":31},{"x":47,"y":0,"y2":31},{"x":48,"y":0,"y2":31},{"x":49,"y":0,"y2":31},{"x":50,"y":0,"y2":31},{"x":51,"y":0,"y2":31},{"x":52,"y":0,"y2":31},{"x":53,"y":0,"y2":31},{"x":54,"y":0,"y2":31},{"x":55,"y":0,"y2":31},{"x":56,"y":0,"y2":31},{"x":57,"y":0,"y2":31},{"x":58,"y":0,"y2":31},{"x":59,"y":0,"y2":31},{"x":60,"y":0,"y2":31},{"x":61,"y":0,"y2":31},{"x":62,"y":0,"y2":31},{"x":63,"y":0,"y2":31},{"x":64,"y":0,"y2":31},{"x":65,"y":0,"y2":31},{"x":66,"y":0,"y2":31},{"x":67,"y":0,"y2":31},{"x":68,"y":0,"y2":31},{"x":69,"y":0,"y2":31},{"x":70,"y":0,"y2":31},{"x":71,"y":0,"y2":31},{"x":72,"y":0,"y2":31},{"x":73,"y":0,"y2":31},{"x":74,"y":0,"y2":31},{"x":75,"y":0,"y2":31},{"x":76,"y":0,"y2":31},{"x":77,"y":0,"y2":31},{"x":78,"y":0,"y2":31},{"x":79,"y":0,"y2":31},{"x":80,"y":0,"y2":31},{"x":81,"y":0,"y2":31},{"x":82,"y":0,"y2":31},{"x":83,"y":0,"y2":31},{"x":84,"y":0,"y2":31},{"x":85,"y":0,"y2":31},{"x":86,"y":0,"y2":31},{"x":87,"y":0,"y2":31},{"x":88,"y":0,"y2":31},{"x":89,"y":0,"y2":31},{"x":90,"y":0,"y2":31},{"x":91,"y":0,"y2":31},{"x":92,"y":0,"y2":31},{"x":93,"y":0,"y2":31},{"x":94,"y":0,"y2":31},{"x":95,"y":0,"y2":31},{"x":96,"y":0,"y2":31},{"x":97,"y":0,"y2":31},{"x":98,"y":0,"y2":31},{"x":99,"y":0,"y2":31},{"x":100,"y":0,"y2":31},{"x":101,"y":0,"y2":31},{"x":102,"y":0,"y2":31},{"x":103,"y":0,"y2":31},{"x":104,"y":0,"y2":31},{"x":105,"y":0,"y2":31},{"x":106,"y":0,"y2":31},{"x":107,"y":0,"y2":31},{"x":108,"y":0,"y2":31},{"x":109,"y":0,"y2":31},{"x":110,"y":0,"y2":31},{"x":111,"y":0,"y2":31},{"x":112,"y":0,"y2":31},{"x":113,"y":0,"y2":31},{"x":114,"y":0,"y2":31},{"x":115,"y":0,"y2":31},{"x":116,"y":0,"y2":31},{"x":117,"y":0,"y2":31},{"x":118,"y":0,"y2":31},{"x":119,"y":0,"y2":31},{"x":120,"y":0,"y2":31},{"x":121,"y":0,"y2":31},{"x":122,"y":0,"y2":31},{"x":123,"y":0,"y2":31},{"x":124,"y":0,"y2":31},{"x":125,"y":0,"y2":31},{"x":126,"y":0,"y2":31},{"x":127,"y":0,"y2":31},{"x":128,"y":0,"y2":31},{"x":129,"y":0,"y2":31},{"x":130,"y":0,"y2":31},{"x":131,"y":0,"y2":31}],
"hLines":[{"x":0,"x2":131,"y":0},{"x":0,"x2":131,"y":1},{"x":0,"x2":131,"y":2},{"x":0,"x2":131,"y":3},{"x":0,"x2":131,"y":4},{"x":0,"x2":131,"y":5},{"x":0,"x2":131,"y":6},{"x":0,"x2":131,"y":7},{"x":0,"x2":131,"y":8},{"x":0,"x2":131,"y":9},{"x":0,"x2":131,"y":10},{"x":0,"x2":131,"y":11},{"x":0,"x2":131,"y":12},{"x":0,"x2":131,"y":13},{"x":0,"x2":131,"y":14},{"x":0,"x2":131,"y":15},{"x":0,"x2":131,"y":16},{"x":0,"x2":131,"y":17},{"x":0,"x2":131,"y":18},{"x":0,"x2":131,"y":19},{"x":0,"x2":131,"y":20},{"x":0,"x2":131,"y":21},{"x":0,"x2":131,"y":22},{"x":0,"x2":131,"y":23},{"x":0,"x2":131,"y":24},{"x":0,"x2":131,"y":25},{"x":0,"x2":131,"y":26},{"x":0,"x2":131,"y":27},{"x":0,"x2":131,"y":28},{"x":0,"x2":131,"y":29},{"x":0,"x2":131,"y":30},{"x":0,"x2":131,"y":31}],
"dendro":[{"l":1243,"r":1895,"t":43,"a":83,"b":82},{"l":862,"r":1622,"t":83,"a":117,"b":97},{"l":349,"r":1379,"t":117,"a":149,"b":141},{"l":112,"r":586,"t":149,"a":180,"b":162},{"l":62,"r":160,"t":180,"a":287,"b":188},{"l":110,"r":212,"t":188,"a":198,"b":198},{"l":78,"r":93,"t":225,"a":287,"b":287},{"l":109,"r":124,"t":242,"a":287,"b":287},{"l":156,"r":171,"t":242,"a":287,"b":287},{"l":140,"r":163,"t":225,"a":287,"b":242},{"l":117,"r":152,"t":199,"a":242,"b":225},{"l":86,"r":134,"t":198,"a":225,"b":199},{"l":186,"r":240,"t":198,"a":287,"b":211},{"l":214,"r":263,"t":211,"a":242,"b":225},{"l":202,"r":226,"t":242,"a":287,"b":287},{"l":263,"r":293,"t":226,"a":287,"b":287},{"l":248,"r":278,"t":225,"a":287,"b":226},{"l":333,"r":836,"t":162,"a":198,"b":171},{"l":326,"r":342,"t":198,"a":287,"b":287},{"l":508,"r":1165,"t":171,"a":178,"b":178},{"l":403,"r":612,"t":178,"a":198,"b":188},{"l":380,"r":428,"t":198,"a":225,"b":225},{"l":365,"r":396,"t":225,"a":242,"b":242},{"l":358,"r":373,"t":242,"a":287,"b":287},{"l":388,"r":404,"t":242,"a":287,"b":287},{"l":420,"r":436,"t":225,"a":287,"b":287},{"l":502,"r":721,"t":188,"a":211,"b":198},{"l":461,"r":540,"t":211,"a":242,"b":212},{"l":511,"r":570,"t":212,"a":242,"b":225},{"l":451,"r":474,"t":242,"a":287,"b":287},{"l":497,"r":525,"t":242,"a":287,"b":287},{"l":559,"r":582,"t":225,"a":287,"b":287},{"l":612,"r":829,"t":198,"a":225,"b":211},{"l":605,"r":621,"t":225,"a":287,"b":287},{"l":721,"r":938,"t":211,"a":225,"b":225},{"l":664,"r":776,"t":225,"a":242,"b":242},{"l":644,"r":683,"t":242,"a":287,"b":287},{"l":760,"r":791,"t":242,"a":287,"b":287},{"l":905,"r":970,"t":225,"a":242,"b":242},{"l":868,"r":940,"t":242,"a":287,"b":287},{"l":962,"r":978,"t":242,"a":287,"b":287},{"l":1080,"r":1253,"t":179,"a":188,"b":188},{"l":1030,"r":1131,"t":188,"a":211,"b":200},{"l":1007,"r":1056,"t":211,"a":242,"b":225},{"l":994,"r":1018,"t":242,"a":287,"b":287},{"l":1045,"r":1067,"t":225,"a":287,"b":242},{"l":1056,"r":1079,"t":242,"a":287,"b":287},{"l":1102,"r":1152,"t":200,"a":287,"b":211},{"l":1123,"r":1175,"t":211,"a":242,"b":242},{"l":1118,"r":1128,"t":242,"a":287,"b":287},{"l":1165,"r":1192,"t":242,"a":287,"b":287},{"l":1235,"r":1269,"t":188,"a":225,"b":225},{"l":1226,"r":1244,"t":225,"a":287,"b":287},{"l":1258,"r":1281,"t":225,"a":287,"b":287},{"l":1337,"r":1421,"t":141,"a":155,"b":155},{"l":1312,"r":1359,"t":155,"a":200,"b":172},{"l":1305,"r":1320,"t":200,"a":287,"b":287},{"l":1343,"r":1375,"t":172,"a":200,"b":188},{"l":1335,"r":1351,"t":200,"a":287,"b":287},{"l":1367,"r":1383,"t":188,"a":287,"b":287},{"l":1395,"r":1445,"t":155,"a":287,"b":188},{"l":1424,"r":1467,"t":188,"a":198,"b":198},{"l":1412,"r":1436,"t":198,"a":287,"b":225},{"l":1428,"r":1444,"t":225,"a":287,"b":287},{"l":1460,"r":1475,"t":198,"a":287,"b":287},{"l":1542,"r":1700,"t":97,"a":141,"b":100},{"l":1500,"r":1583,"t":141,"a":170,"b":150},{"l":1490,"r":1514,"t":170,"a":287,"b":200},{"l":1506,"r":1522,"t":200,"a":287,"b":287},{"l":1560,"r":1606,"t":150,"a":170,"b":170},{"l":1544,"r":1575,"t":170,"a":225,"b":188},{"l":1537,"r":1552,"t":225,"a":287,"b":287},{"l":1568,"r":1583,"t":188,"a":287,"b":287},{"l":1598,"r":1615,"t":170,"a":287,"b":287},{"l":1664,"r":1737,"t":100,"a":128,"b":128},{"l":1640,"r":1688,"t":128,"a":163,"b":150},{"l":1630,"r":1653,"t":163,"a":287,"b":180},{"l":1645,"r":1660,"t":180,"a":287,"b":287},{"l":1676,"r":1700,"t":150,"a":287,"b":188},{"l":1692,"r":1707,"t":188,"a":287,"b":287},{"l":1725,"r":1750,"t":128,"a":287,"b":155},{"l":1739,"r":1762,"t":155,"a":287,"b":188},{"l":1755,"r":1770,"t":188,"a":287,"b":287},{"l":1805,"r":1985,"t":82,"a":135,"b":112},{"l":1785,"r":1825,"t":135,"a":287,"b":143},{"l":1809,"r":1840,"t":143,"a":180,"b":172},{"l":1801,"r":1816,"t":180,"a":287,"b":287},{"l":1832,"r":1847,"t":172,"a":287,"b":287},{"l":1918,"r":2052,"t":112,"a":136,"b":128},{"l":1870,"r":1965,"t":136,"a":172,"b":163},{"l":1863,"r":1878,"t":172,"a":287,"b":287},{"l":1921,"r":2011,"t":163,"a":188,"b":188},{"l":1900,"r":1940,"t":188,"a":225,"b":198},{"l":1894,"r":1909,"t":225,"a":287,"b":287},{"l":1925,"r":1955,"t":198,"a":287,"b":211},{"l":1940,"r":1967,"t":211,"a":287,"b":225},{"l":1955,"r":1979,"t":225,"a":287,"b":287},{"l":2003,"r":2018,"t":188,"a":287,"b":287},{"l":2033,"r":2072,"t":128,"a":287,"b":142},{"l":2057,"r":2087,"t":142,"a":211,"b":172},{"l":2049,"r":2065,"t":211,"a":287,"b":287},{"l":2080,"r":2095,"t":172,"a":287,"b":287}],
"rows":[{"x":131.57,"y":0.57,"t":"33292712"},{"x":131.57,"y":1.61,"t":"33384600"},{"x":131.57,"y":2.65,"t":"33587307"},{"x":131.57,"y":3.68,"t":"33622196"},{"x":131.57,"y":4.72,"t":"33622254"},{"x":131.57,"y":5.76,"t":"33622264"},{"x":131.57,"y":6.8,"t":"33642839"},{"x":131.57,"y":7.84,"t":"33675315"},{"x":131.57,"y":8.87,"t":"33675533"},{"x":131.57,"y":9.91,"t":"33675534"},{"x":131.57,"y":10.95,"t":"33675576"},{"x":131.57,"y":11.99,"t":"33676000"},{"x":131.57,"y":13.03,"t":"33676003"},{"x":131.57,"y":14.06,"t":"33676285"},{"x":131.57,"y":15.1,"t":"33676708"},{"x":131.57,"y":16.14,"t":"33676714"},{"x":131.57,"y":17.18,"t":"33679250"},{"x":131.57,"y":18.22,"t":"33698085"},{"x":131.57,"y":19.25,"t":"33698282"},{"x":131.57,"y":20.29,"t":"33703412"},{"x":131.57,"y":21.33,"t":"33703431"},{"x":131.57,"y":22.37,"t":"33703870"},{"x":131.57,"y":23.41,"t":"33703923"},{"x":131.57,"y":24.44,"t":"33704555"},{"x":131.57,"y":25.48,"t":"33704571"},{"x":131.57,"y":26.52,"t":"33704661"},{"x":131.57,"y":27.56,"t":"33718262"},{"x":131.57,"y":28.6,"t":"33803924"},{"x":131.57,"y":29.63,"t":"33812314"},{"x":131.57,"y":30.67,"t":"33812316"},{"x":131.57,"y":31.71,"t":"34131188"}],
"cols":[{"x":0.5,"y":31.6,"t":"M_3DDK_TKL"},{"x":1.5,"y":31.6,"t":"F_EJ4P_DT"},{"x":2.5,"y":31.6,"t":"F_MF03_D3"},{"x":3.5,"y":31.6,"t":"F_6RN6_TKG"},{"x":4.5,"y":31.6,"t":"F_L4P1_TKG"},{"x":5.5,"y":31.6,"t":"F_MFH1_TKL"},{"x":6.5,"y":31.6,"t":"M_MFT2_LT1"},{"x":7.5,"y":31.6,"t":"M_LKH3_TKL"},{"x":8.5,"y":31.6,"t":"F_LKH4_LT1"},{"x":9.5,"y":31.6,"t":"F_MFH1_LT1"},{"x":10.5,"y":31.6,"t":"M_MFT1_D3"},{"x":11.5,"y":31.6,"t":"M_LK06_TKG"},{"x":12.5,"y":31.6,"t":"M_LK18_TKL"},{"x":13.5,"y":31.6,"t":"M_MFT4_TKL"},{"x":14.5,"y":31.6,"t":"F_ME13_LT1"},{"x":15.5,"y":31.6,"t":"F_E5M1_D3"},{"x":16.5,"y":31.6,"t":"F_MF13_LT1"},{"x":17.5,"y":31.6,"t":"M_LKH1_TKG"},{"x":18.5,"y":31.6,"t":"F_MF08_LT1"},{"x":19.5,"y":31.6,"t":"M_M028_TKG"},{"x":20.5,"y":31.6,"t":"M_MF03_LT1"},{"x":21.5,"y":31.6,"t":"M_MF03_TKL"},{"x":22.5,"y":31.6,"t":"M_MF12_TKL"},{"x":23.5,"y":31.6,"t":"M_LK02_LT1"},{"x":24.5,"y":31.6,"t":"F_MF24_TKG"},{"x":25.5,"y":31.6,"t":"F_MF36_LT1"},{"x":26.5,"y":31.6,"t":"F_MF06_LT1"},{"x":27.5,"y":31.6,"t":"F_MF26_TKG"},{"x":28.5,"y":31.6,"t":"F_MF07_TKG"},{"x":29.5,"y":31.6,"t":"F_MF18_LT1"},{"x":30.5,"y":31.6,"t":"M_MFH3_D3"},{"x":31.5,"y":31.6,"t":"M_MFT2_D3"},{"x":32.5,"y":31.6,"t":"F_LK09_TKG"},{"x":33.5,"y":31.6,"t":"F_MF26_LT1"},{"x":34.5,"y":31.6,"t":"F_MFH8_TKG"},{"x":35.5,"y":31.6,"t":"F_MFH5_TKG"},{"x":36.5,"y":31.6,"t":"M_MH4H_LT1"},{"x":37.5,"y":31.6,"t":"M_MF23_TKG"},{"x":38.5,"y":31.6,"t":"F_MFH3_LT1"},{"x":39.5,"y":31.6,"t":"F_MFH1_TKG"},{"x":40.5,"y":31.6,"t":"F_L4P1_D3"},{"x":41.5,"y":31.6,"t":"F_MF06_TKL"},{"x":42.5,"y":31.6,"t":"F_M026_LT1"},{"x":43.5,"y":31.6,"t":"F_LK06_LT1"},{"x":44.5,"y":31.6,"t":"M_MFT1_TKG"},{"x":45.5,"y":31.6,"t":"M_LK08_TKL"},{"x":46.5,"y":31.6,"t":"F_MFH4_LT1"},{"x":47.5,"y":31.6,"t":"F_MF08_LT1"},{"x":48.5,"y":31.6,"t":"F_MF24_LT1"},{"x":49.5,"y":31.6,"t":"F_MF03_TKL"},{"x":50.5,"y":31.6,"t":"F_MF22_TKL"},{"x":51.5,"y":31.6,"t":"F_MF01_TKG"},{"x":52.5,"y":31.6,"t":"F_MF13_LT1"},{"x":53.5,"y":31.6,"t":"F_MFH4_D3"},{"x":54.5,"y":31.6,"t":"F_MF03_LT1"},{"x":55.5,"y":31.6,"t":"F_LK09_LT1"},{"x":56.5,"y":31.6,"t":"M_LK02_TKG"},{"x":57.5,"y":31.6,"t":"M_LK01_D3"},{"x":58.5,"y":31.6,"t":"M_MF13_LT1"},{"x":59.5,"y":31.6,"t":"F_ME03_LT1"},{"x":60.5,"y":31.6,"t":"F_MFH1_LT1"},{"x":61.5,"y":31.6,"t":"F_MF03_TKG"},{"x":62.5,"y":31.6,"t":"M_MF15_LT1"},{"x":63.5,"y":31.6,"t":"M_MFH4_TKG"},{"x":64.5,"y":31.6,"t":"M_LK04_D3"},{"x":65.5,"y":31.6,"t":"F_MF01_TKL"},{"x":66.5,"y":31.6,"t":"F_LK03_LT1"},{"x":67.5,"y":31.6,"t":"M_MF03_TKL"},{"x":68.5,"y":31.6,"t":"M_LKP3_TKL"},{"x":69.5,"y":31.6,"t":"F_MF06_LT1"},{"x":70.5,"y":31.6,"t":"M_MF06_TKL"},{"x":71.5,"y":31.6,"t":"M_MF25_D3"},{"x":72.5,"y":31.6,"t":"F_MF1T_LT1"},{"x":73.5,"y":31.6,"t":"M_MK36_LT1"},{"x":74.5,"y":31.6,"t":"F_MFT4_LT1"},{"x":75.5,"y":31.6,"t":"M_MFT4_D3"},{"x":76.5,"y":31.6,"t":"M_MF25_D3"},{"x":77.5,"y":31.6,"t":"F_MK06_TKG"},{"x":78.5,"y":31.6,"t":"M_MF25_LT1"},{"x":79.5,"y":31.6,"t":"F_K2B6_TKL"},{"x":80.5,"y":31.6,"t":"F_K2B3_TKL"},{"x":81.5,"y":31.6,"t":"M_MFT1_TKL"},{"x":82.5,"y":31.6,"t":"F_MF34_TKG"},{"x":83.5,"y":31.6,"t":"F_M026_TKL"},{"x":84.5,"y":31.6,"t":"F_ME12_D3"},{"x":85.5,"y":31.6,"t":"M_MF21_TKL"},{"x":86.5,"y":31.6,"t":"F_LKH1_LT1"},{"x":87.5,"y":31.6,"t":"M_MF21_LT1"},{"x":88.5,"y":31.6,"t":"F_MFT4_TKL"},{"x":89.5,"y":31.6,"t":"F_K2A3_TKL"},{"x":90.5,"y":31.6,"t":"M_K2B7_TKL"},{"x":91.5,"y":31.6,"t":"M_K3B3_TKL"},{"x":92.5,"y":31.6,"t":"F_K2B2_TKL"},{"x":93.5,"y":31.6,"t":"M_MFP6_TKL"},{"x":94.5,"y":31.6,"t":"F_M066_TKL"},{"x":95.5,"y":31.6,"t":"F_K2A3_TKL"},{"x":96.5,"y":31.6,"t":"F_K2A3_TKG"},{"x":97.5,"y":31.6,"t":"F_K2B3_TKL"},{"x":98.5,"y":31.6,"t":"M_LT03_TKL"},{"x":99.5,"y":31.6,"t":"F_K2B3_TKG"},{"x":100.5,"y":31.6,"t":"M_MF24_TKL"},{"x":101.5,"y":31.6,"t":"F_K2C7_TKL"},{"x":102.5,"y":31.6,"t":"M_LT03_TKG"},{"x":103.5,"y":31.6,"t":"F_K2B2_TKL"},{"x":104.5,"y":31.6,"t":"M_MF25_D3"},{"x":105.5,"y":31.6,"t":"M_MF07_TKL"},{"x":106.5,"y":31.6,"t":"M_K2B7_TKL"},{"x":107.5,"y":31.6,"t":"F_K2B1_TKL"},{"x":108.5,"y":31.6,"t":"F_K2B1_TKG"},{"x":109.5,"y":31.6,"t":"F_K2B1_LT1"},{"x":110.5,"y":31.6,"t":"M_LKH1_LT1"},{"x":111.5,"y":31.6,"t":"F_K2C5_TKL"},{"x":112.5,"y":31.6,"t":"M_K2B3_TKL"},{"x":113.5,"y":31.6,"t":"F_K2B9_TKG"},{"x":114.5,"y":31.6,"t":"M_K2C8_TKL"},{"x":115.5,"y":31.6,"t":"M_K2C3_TKL"},{"x":116.5,"y":31.6,"t":"M_MFT2_TKG"},{"x":117.5,"y":31.6,"t":"M_LKP8_TKG"},{"x":118.5,"y":31.6,"t":"M_M025_TKG"},{"x":119.5,"y":31.6,"t":"M_LK03_TKL"},{"x":120.5,"y":31.6,"t":"M_LKH1_TKG"},{"x":121.5,"y":31.6,"t":"M_MFH1_TKG"},{"x":122.5,"y":31.6,"t":"M_MF07_TKG"},{"x":123.5,"y":31.6,"t":"M_LKH1_LT1"},{"x":124.5,"y":31.6,"t":"M_MF07_TKL"},{"x":125.5,"y":31.6,"t":"M_LKH1_TKL"},{"x":126.5,"y":31.6,"t":"M_LKH1_TKG"},{"x":127.5,"y":31.6,"t":"M_K2C9_TKL"},{"x":128.5,"y":31.6,"t":"M_K2C8_TKG"},{"x":129.5,"y":31.6,"t":"M_K2C9_TKG"},{"x":130.5,"y":31.6,"t":"M_MFH2_TKL"}]
},
"resolve":{"scale":{"x":"independent","y":"independent"},"axis":{"x":"independent","y":"independent"}},
"layer":[
{"encoding":{"x":{"field":"x","type":"quantitative","scale":{"domain":[154,2073],"range":[51.3,691]},"axis":{"orient":"bottom","offset":-755.7,"zindex":1,"title":null,"values":[260,324,367,427,508,573,643,736,817,868,922,982,1051,1116,1179,1245,1315,1390,1459,1519,1579,1644,1715,1878],"labelExpr":"{'260':'LG01','324':'LG02','367':'LG03a','427':'LG03b','508':'LG04','573':'LG05','643':'LG06','736':'LG07','817':'LG08','868':'LG09','922':'LG10','982':'LG11','1051':'LG12','1116':'LG13','1179':'LG14','1245':'LG15','1315':'LG16','1390':'LG17','1459':'LG18','1519':'LG19','1579':'LG20','1644':'LG22','1715':'LG23','1878':''}[datum.value]","labelAngle":270,"labelPadding":12,"labelFontSize":9,"labelColor":"#333","tickSize":3,"tickColor":"#444","domainColor":"#444"}},"y":{"field":"y","type":"quantitative","scale":{"domain":[-0.264,7.28],"range":[361.3,9]},"axis":{"orient":"left","offset":-51.3,"zindex":1,"values":[0,1,2,3,4,5,6,7],"labelPadding":12,"labelFontSize":9.5,"labelColor":"#333","tickSize":3,"tickColor":"#444","domainColor":"#444","title":"-log10 (p-value)","titleFontSize":12.3,"titleColor":"#333","titleX":-38,"titleY":192,"titleAngle":270,"titleBaseline":"middle"}}},
"layer":[
{"data":{"name":"aSolid"},"mark":{"type":"rect"},"encoding":{"x2":{"field":"x2"},"y2":{"field":"y2"},"fill":{"condition":{"test":"datum.g=='d'","value":"#333333"},"value":"#999999"}}},
{"data":{"name":"aBand"},"mark":{"type":"rect"},"encoding":{"x2":{"field":"x2"},"y2":{"field":"y2"},"opacity":{"field":"d","type":"quantitative","scale":null},"fill":{"condition":{"test":"datum.g=='d'","value":"#333333"},"value":"#999999"}}},
{"data":{"name":"aWhite"},"mark":{"type":"square","size":2.5,"fill":"#ffffff","opacity":0.9}},
{"data":{"name":"aGrey"},"mark":{"type":"square","size":3,"fill":"#999999","opacity":1}},
{"data":{"name":"aDark"},"mark":{"type":"square","size":3,"fill":"#333333","opacity":1}},
{"data":{"values":[{"x":154,"x2":2073,"y":-0.264,"y2":7.28}]},"mark":{"type":"rect","fill":null,"stroke":"#8a8a8a","strokeWidth":1},"encoding":{"x2":{"field":"x2"},"y2":{"field":"y2"}}},
{"data":{"values":[{"x":586,"x2":607,"y":0,"y2":5.48}]},"mark":{"type":"rect","fill":null,"stroke":"#D9824F","strokeWidth":1},"encoding":{"x2":{"field":"x2"},"y2":{"field":"y2"}}},
{"data":{"values":[{"x":1878,"y":-0.75,"t":"UNPLACED"}]},"mark":{"type":"text","fontSize":9.5,"fill":"#333","align":"center","baseline":"middle"},"encoding":{"text":{"field":"t"}}},
{"data":{"values":[{"x":2,"y":7.06,"t":"(a)"}]},"mark":{"type":"text","fontSize":14.5,"fontWeight":"bold","fill":"#111","align":"left","baseline":"middle"},"encoding":{"text":{"field":"t"}}}
]},
{"encoding":{"x":{"field":"x","type":"quantitative","scale":{"domain":[-1.327,35.99],"range":[44.3,345.3]},"axis":{"orient":"bottom","offset":-520,"values":[0,5,10,15,20,25,30,35],"labelExpr":"{'0':'0.0e+00','5':'5.0e+06','10':'1.0e+07','15':'1.5e+07','20':'2.0e+07','25':'2.5e+07','30':'3.0e+07','35':'3.5e+07'}[datum.value]","labelFontSize":4.8,"labelColor":"#555","labelPadding":6,"tickSize":2,"tickColor":"#888","domainColor":"#999","title":"position on LG05","titleFontSize":12.8,"titleColor":"#333","titleX":191,"titleY":25,"titleBaseline":"middle"}},"y":{"field":"y","type":"quantitative","scale":{"domain":[-0.183,5.12],"range":[597,432.3]},"axis":{"orient":"left","offset":-44.3,"values":[0,1,2,3,4,5],"labelAngle":270,"labelAlign":"center","labelBaseline":"bottom","labelFontSize":4.8,"labelColor":"#555","labelPadding":6,"tickSize":2,"tickColor":"#888","domainColor":"#999","title":"-log10 (p-value)","titleFontSize":11.3,"titleColor":"#333","titleX":-28,"titleY":511,"titleAngle":270,"titleBaseline":"middle"}}},
"layer":[
{"data":{"name":"bLBands"},"mark":{"type":"rect","fill":"#000"},"encoding":{"x2":{"field":"x2"},"y2":{"field":"y2"},"opacity":{"field":"d","type":"quantitative","scale":null}}},
{"data":{"name":"bLWhite"},"mark":{"type":"square","size":1.4,"fill":"#ffffff","opacity":0.9}},
{"data":{"name":"bL"},"mark":{"type":"square","size":1.1,"fill":"#111","opacity":1}},
{"data":{"values":[{"x":-1.327,"x2":35.99,"y":-0.183,"y2":5.12}]},"mark":{"type":"rect","fill":null,"stroke":"#aaaaaa","strokeWidth":1},"encoding":{"x2":{"field":"x2"},"y2":{"field":"y2"}}},
{"data":{"values":[{"x":-6.74,"y":4.87,"t":"(b)"}]},"mark":{"type":"text","fontSize":14.5,"fontWeight":"bold","fill":"#111","align":"left","baseline":"middle"},"encoding":{"text":{"field":"t"}}}
]},
{"encoding":{"x":{"field":"x","type":"quantitative","scale":{"domain":[32936,34672.7],"range":[397.3,696]},"axis":{"orient":"bottom","offset":-521,"values":[33000,33500,34000,34500],"labelExpr":"format(datum.value*1000,'d')","labelFontSize":4.8,"labelColor":"#555","labelPadding":6,"tickSize":2,"tickColor":"#888","domainColor":"#999","title":"position on LG05","titleFontSize":12.8,"titleColor":"#333","titleX":533,"titleY":26,"titleBaseline":"middle"}},"y":{"field":"y","type":"quantitative","scale":{"domain":[-0.18,4.99],"range":[596,432.3]},"axis":{"orient":"left","offset":-397.3,"values":[0,1,2,3,4],"labelAngle":270,"labelAlign":"center","labelBaseline":"bottom","labelFontSize":4.8,"labelColor":"#555","labelPadding":6,"tickSize":2,"tickColor":"#888","domainColor":"#999","title":"-log10 (p-value)","titleFontSize":11.3,"titleColor":"#333","titleX":-25,"titleY":514,"titleAngle":270,"titleBaseline":"middle"}}},
"layer":[
{"data":{"name":"bRBands"},"mark":{"type":"rect","fill":"#000"},"encoding":{"x2":{"field":"x2"},"y2":{"field":"y2"},"opacity":{"field":"d","type":"quantitative","scale":null}}},
{"data":{"name":"bRWhite"},"mark":{"type":"square","size":1.4,"fill":"#ffffff","opacity":0.85}},
{"data":{"name":"bR"},"mark":{"type":"square","size":1.1,"fill":"#111","opacity":1}},
{"data":{"values":[{"x":32936,"x2":34672.7,"y":-0.18,"y2":4.99}]},"mark":{"type":"rect","fill":null,"stroke":"#aaaaaa","strokeWidth":1},"encoding":{"x2":{"field":"x2"},"y2":{"field":"y2"}}}
]},
{"data":{"name":"dendro"},
"layer":[
{"mark":{"type":"rule","stroke":"#4d4d4d","strokeWidth":0.8},"encoding":{"x":{"field":"l","type":"quantitative","scale":{"domain":[0,2250],"range":[0,750]},"axis":null},"x2":{"field":"r"},"y":{"field":"t","type":"quantitative","scale":{"domain":[287,0],"range":[761,665.33]},"axis":null}}},
{"mark":{"type":"rule","stroke":"#4d4d4d","strokeWidth":0.8},"encoding":{"x":{"field":"l","type":"quantitative","scale":{"domain":[0,2250],"range":[0,750]},"axis":null},"y":{"field":"t","type":"quantitative","scale":{"domain":[287,0],"range":[761,665.33]},"axis":null},"y2":{"field":"a"}}},
{"mark":{"type":"rule","stroke":"#4d4d4d","strokeWidth":0.8},"encoding":{"x":{"field":"r","type":"quantitative","scale":{"domain":[0,2250],"range":[0,750]},"axis":null},"y":{"field":"t","type":"quantitative","scale":{"domain":[287,0],"range":[761,665.33]},"axis":null},"y2":{"field":"b"}}}
]},
{"encoding":{"x":{"field":"x","type":"quantitative","scale":{"domain":[0,131],"range":[18.3,701]},"axis":null},"y":{"field":"y","type":"quantitative","scale":{"domain":[0,31],"range":[761,1072]},"axis":null}},
"layer":[
{"data":{"values":[{"x":0,"x2":131,"y":0,"y2":31}]},"mark":{"type":"rect"},"encoding":{"x2":{"field":"x2"},"y2":{"field":"y2"},"color":{"datum":"homozygous","type":"nominal","scale":{"domain":["heterozygous","homozygous"],"range":["#2DB0A6","#473592"]},"legend":{"title":null,"orient":"none","legendX":42,"legendY":671,"direction":"horizontal","padding":0,"symbolType":"M-0.8,-0.7 H0.8 Q1,-0.7 1,-0.5 V0.5 Q1,0.7 0.8,0.7 H-0.8 Q-1,0.7 -1,0.5 V-0.5 Q-1,-0.7 -0.8,-0.7 Z","symbolSize":497,"symbolStrokeWidth":0,"symbolOpacity":1,"labelFontSize":12.8,"labelColor":"#222","labelOffset":3,"columnPadding":7}}}},
{"data":{"name":"het"},"mark":{"type":"rect"},"encoding":{"x2":{"field":"x2"},"y2":{"field":"y2"},"color":{"datum":"heterozygous","type":"nominal"}}},
{"data":{"name":"vLines"},"mark":{"type":"rule","stroke":"#a3a0b4","strokeWidth":0.8},"encoding":{"y2":{"field":"y2"}}},
{"data":{"name":"hLines"},"mark":{"type":"rule","stroke":"#a3a0b4","strokeWidth":0.8},"encoding":{"x2":{"field":"x2"}}},
{"data":{"values":[{"x":110.17,"x2":131.35,"y":-7.41,"y2":35.46}]},"mark":{"type":"rect","fill":null,"stroke":"#E0824F","strokeWidth":1},"encoding":{"x2":{"field":"x2"},"y2":{"field":"y2"}}},
{"data":{"name":"rows"},"mark":{"type":"text","fontSize":10.3,"fill":"#222","align":"left","baseline":"middle"},"encoding":{"text":{"field":"t"}}},
{"data":{"name":"cols"},"mark":{"type":"text","fontSize":3.9,"angle":270,"align":"right","baseline":"middle"},"encoding":{"text":{"field":"t"},"fill":{"condition":{"test":"datum.t[0]=='M'","value":"#5f90b8"},"value":"#d65a9f"}}},
{"data":{"values":[{"x":-3.38,"y":-7.38,"t":"(c)"}]},"mark":{"type":"text","fontSize":14.5,"fontWeight":"bold","fill":"#111","align":"left","baseline":"middle"},"encoding":{"text":{"field":"t"}}}
]}
]}
